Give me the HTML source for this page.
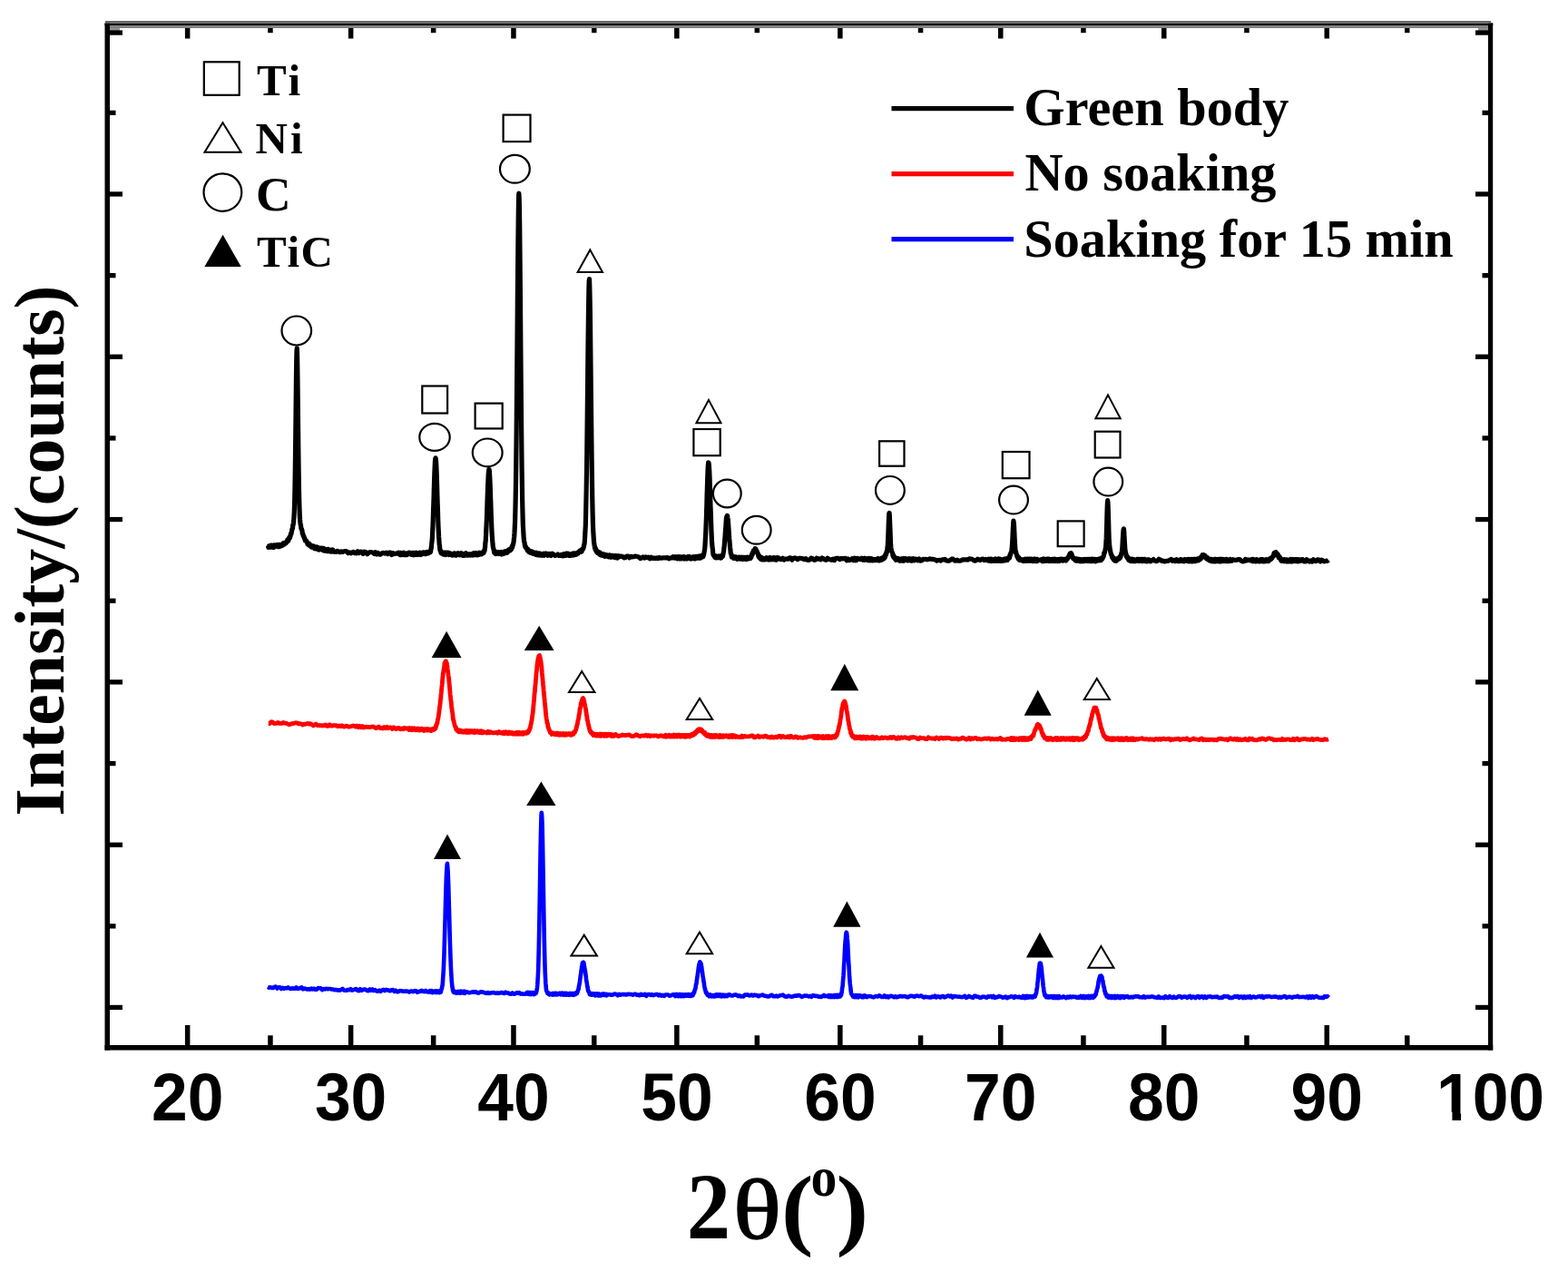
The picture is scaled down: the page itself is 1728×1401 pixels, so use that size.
<!DOCTYPE html><html><head><meta charset="utf-8"><title>XRD patterns</title>
<style>html,body{margin:0;padding:0;background:#fff;overflow:hidden;width:1728px;height:1401px;}svg{display:block;}.sans{font-family:"Liberation Sans",Arial,sans-serif;font-weight:bold;}.serif{font-family:"Liberation Serif","Times New Roman",serif;font-weight:bold;}</style></head><body>
<svg width="1728" height="1401" viewBox="0 0 1728 1401">
<rect width="1728" height="1401" fill="#fff"/>
<path d="M295.50,601.48 295.80,603.33 296.10,603.11 296.40,601.78 296.70,602.39 297.00,602.27 297.30,602.78 297.60,603.13 297.90,601.32 298.20,601.14 298.50,603.22 298.80,602.16 299.10,603.01 299.40,601.02 299.70,602.16 300.00,602.86 300.30,601.56 300.60,603.41 300.90,603.27 301.20,600.99 301.50,600.96 301.80,602.28 302.10,603.29 302.40,601.81 302.70,601.36 303.00,601.86 303.30,600.81 303.60,601.28 303.90,601.81 304.20,601.93 304.50,601.21 304.80,601.17 305.10,601.10 305.40,601.68 305.70,601.19 306.00,600.45 306.30,602.52 306.60,601.74 306.90,601.91 307.20,600.67 307.50,602.70 307.80,602.30 308.10,600.31 308.40,600.79 308.70,601.72 309.00,601.62 309.30,602.12 309.60,600.70 309.90,601.67 310.20,601.15 310.50,600.10 310.80,600.73 311.10,601.38 311.40,601.17 311.70,600.15 312.00,600.23 312.30,598.65 312.60,599.04 312.90,600.32 313.20,599.15 313.50,598.35 313.80,599.13 314.10,599.33 314.40,599.04 314.70,598.03 315.00,597.95 315.30,597.87 315.60,598.29 315.90,597.32 316.20,596.67 316.50,596.59 316.80,595.03 317.10,594.68 317.40,595.98 317.70,596.26 318.00,594.77 318.30,593.74 318.60,592.61 318.90,592.88 319.20,593.50 319.50,592.27 319.80,590.93 320.10,590.98 320.40,588.50 320.70,588.33 321.00,588.49 321.30,586.48 321.60,585.05 321.90,583.35 322.20,582.78 322.50,582.45 322.80,578.43 323.10,578.66 323.40,576.57 323.70,573.85 324.00,569.38 324.30,563.54 324.60,553.91 324.90,541.28 325.20,523.54 325.50,500.37 325.80,476.29 326.10,447.44 326.40,419.75 326.70,399.00 327.00,386.09 327.30,383.85 327.60,393.23 327.90,412.76 328.20,438.44 328.50,466.46 328.80,493.21 329.10,515.81 329.40,535.38 329.70,549.49 330.00,560.64 330.30,568.25 330.60,572.76 330.90,576.02 331.20,578.48 331.50,578.94 331.80,582.11 332.10,583.14 332.40,582.97 332.70,584.05 333.00,585.22 333.30,588.25 333.60,587.96 333.90,588.56 334.20,590.79 334.50,590.90 334.80,590.96 335.10,591.92 335.40,593.56 335.70,593.26 336.00,594.12 336.30,595.82 336.60,595.67 336.90,595.81 337.20,596.65 337.50,595.91 337.80,597.25 338.10,597.72 338.40,597.47 338.70,597.60 339.00,599.97 339.30,599.25 339.60,598.75 339.90,600.05 340.20,600.85 340.50,599.02 340.80,599.23 341.10,599.78 341.40,601.47 341.70,600.22 342.00,601.82 342.30,601.92 342.60,601.74 342.90,601.06 343.20,603.18 343.50,602.86 343.80,602.27 344.10,601.64 344.40,602.88 344.70,602.34 345.00,602.93 345.30,602.39 345.60,603.32 345.90,601.94 346.20,602.68 346.50,604.53 346.80,604.39 347.10,603.02 347.40,604.55 347.70,603.22 348.00,604.95 348.30,604.53 348.60,603.77 348.90,603.43 349.20,602.88 349.50,605.22 349.80,603.11 350.10,605.22 350.40,605.67 350.70,604.72 351.00,603.76 351.30,605.64 351.60,605.98 351.90,605.35 352.20,604.90 352.50,604.63 352.80,604.61 353.10,604.31 353.40,605.58 353.70,605.02 354.00,604.45 354.30,604.28 354.60,605.79 354.90,604.89 355.20,605.47 355.50,605.07 355.80,606.55 356.10,606.67 356.40,604.43 356.70,604.96 357.00,605.33 357.30,607.10 357.60,606.61 357.90,605.51 358.20,605.23 358.50,606.47 358.80,606.95 359.10,607.24 359.40,605.75 359.70,607.20 360.00,606.73 360.30,606.25 360.60,607.59 360.90,605.68 361.20,607.00 361.50,605.38 361.80,605.64 362.10,607.61 362.40,605.83 362.70,607.29 363.00,606.92 363.30,607.59 363.60,606.40 363.90,606.36 364.20,606.27 364.50,607.81 364.80,607.16 365.10,608.11 365.40,607.97 365.70,606.06 366.00,607.17 366.30,606.05 366.60,605.91 366.90,606.04 367.20,608.14 368.70,608.11 370.20,608.38 371.70,607.28 373.20,608.16 374.70,608.75 376.20,607.86 377.70,608.51 379.20,607.76 380.70,607.51 382.20,608.05 383.70,609.74 385.20,608.95 386.70,609.95 388.20,608.79 389.70,608.38 391.20,609.76 392.70,609.93 394.20,607.86 395.70,609.63 397.20,608.17 398.70,608.29 400.20,610.34 401.70,608.20 403.20,608.77 404.70,610.76 406.20,609.34 407.70,608.60 409.20,608.78 410.70,609.02 412.20,610.38 413.70,608.76 415.20,610.91 416.70,609.57 418.20,611.15 419.70,611.04 421.20,609.49 422.70,609.43 424.20,610.06 425.70,609.12 427.20,610.60 428.70,609.05 430.20,609.02 431.70,611.56 433.20,609.79 434.70,610.59 436.20,610.23 437.70,609.89 439.20,609.25 440.70,611.48 441.00,611.62 441.30,611.63 441.60,609.40 441.90,609.67 442.20,610.72 442.50,611.66 442.80,610.53 443.10,610.91 443.40,610.84 443.70,609.80 444.00,610.54 444.30,609.93 444.60,609.77 444.90,609.35 445.20,609.87 445.50,611.69 445.80,610.30 446.10,610.84 446.40,610.82 446.70,611.59 447.00,610.16 447.30,609.95 447.60,610.00 447.90,609.98 448.20,611.36 448.50,611.48 448.80,609.94 449.10,610.03 449.40,610.57 449.70,610.66 450.00,610.71 450.30,609.80 450.60,609.21 450.90,609.80 451.20,609.35 451.50,610.60 451.80,609.35 452.10,609.36 452.40,610.82 452.70,609.92 453.00,611.22 453.30,610.45 453.60,611.41 453.90,609.56 454.20,610.47 454.50,611.23 454.80,609.36 455.10,611.63 455.40,609.61 455.70,611.18 456.00,611.72 456.30,611.29 456.60,609.98 456.90,609.43 457.20,610.49 457.50,611.54 457.80,609.91 458.10,611.46 458.40,609.50 458.70,611.50 459.00,609.21 459.30,609.95 459.60,611.47 459.90,611.20 460.20,611.47 460.50,611.29 460.80,611.04 461.10,610.88 461.40,609.55 461.70,610.20 462.00,609.48 462.30,610.92 462.60,610.79 462.90,609.70 463.20,609.20 463.50,611.52 463.80,611.11 464.10,610.42 464.40,610.39 464.70,611.18 465.00,610.13 465.30,609.96 465.60,609.80 465.90,609.57 466.20,608.94 466.50,610.54 466.80,609.92 467.10,610.29 467.40,608.95 467.70,609.68 468.00,609.09 468.30,609.02 468.60,609.34 468.90,610.78 469.20,609.62 469.50,609.59 469.80,610.09 470.10,609.06 470.40,608.42 470.70,609.73 471.00,609.60 471.30,609.92 471.60,609.30 471.90,609.87 472.20,609.90 472.50,608.52 472.80,609.07 473.10,608.88 473.40,608.03 473.70,608.25 474.00,608.28 474.30,608.67 474.60,607.96 474.90,605.25 475.20,604.76 475.50,601.19 475.80,598.53 476.10,596.10 476.40,592.48 476.70,584.92 477.00,579.64 477.30,571.96 477.60,561.49 477.90,552.77 478.20,543.12 478.50,531.96 478.80,523.59 479.10,515.75 479.40,509.25 479.70,506.07 480.00,504.86 480.30,506.35 480.60,509.21 480.90,514.31 481.20,522.46 481.50,531.60 481.80,542.44 482.10,553.00 482.40,560.89 482.70,571.51 483.00,579.60 483.30,585.51 483.60,591.64 483.90,595.31 484.20,600.37 484.50,601.30 484.80,605.76 485.10,606.78 485.40,607.36 485.70,607.17 486.00,609.36 486.30,609.86 486.60,607.99 486.90,609.85 487.20,610.18 487.50,609.83 487.80,610.04 488.10,609.47 488.40,610.80 488.70,611.00 489.00,609.54 489.30,610.70 489.60,609.80 489.90,609.16 490.20,609.64 490.50,609.17 490.80,611.25 491.10,611.43 491.40,609.29 491.70,610.58 492.00,610.12 492.30,609.40 492.60,609.90 492.90,609.81 493.20,611.14 493.50,609.23 493.80,609.74 494.10,610.42 494.40,609.36 494.70,610.96 495.00,610.93 495.30,611.54 495.60,609.93 495.90,610.16 496.20,610.84 496.50,610.16 496.80,610.99 497.10,610.14 497.40,611.28 497.70,611.58 498.00,611.64 498.30,612.08 498.60,610.98 498.90,610.85 499.20,611.82 499.50,611.60 499.80,611.10 500.10,610.62 500.40,610.37 500.70,609.93 501.00,611.75 501.30,609.97 501.60,611.61 501.90,611.09 502.20,612.19 502.50,611.67 502.80,612.23 503.10,610.06 503.40,611.01 503.70,611.20 504.00,610.53 504.30,611.03 504.60,610.65 504.90,611.10 505.20,609.74 505.50,610.89 505.80,610.91 506.10,610.54 506.40,610.79 506.70,611.79 507.00,611.53 507.30,611.04 507.60,611.45 507.90,610.75 508.20,610.30 508.50,609.78 508.80,610.49 509.10,611.33 509.40,612.07 509.70,611.93 510.00,611.10 510.30,612.34 510.60,610.98 510.90,611.95 511.20,610.84 511.50,611.71 511.80,612.35 512.10,610.57 512.40,610.22 512.70,611.39 513.00,611.16 513.30,610.71 513.60,609.78 513.90,610.78 514.20,610.88 514.50,610.82 514.80,612.00 515.10,611.28 515.40,611.67 515.70,612.09 516.00,611.70 516.30,611.03 516.60,611.68 516.90,611.41 517.20,611.42 517.50,611.37 517.80,610.79 518.10,611.36 518.40,611.36 518.70,612.15 519.00,611.74 519.30,611.90 519.60,611.68 519.90,611.80 520.20,611.25 520.50,610.57 520.80,610.34 521.10,611.49 521.40,611.91 521.70,611.04 522.00,610.01 522.30,611.77 522.60,610.85 522.90,610.79 523.20,609.68 523.50,610.87 523.80,611.46 524.10,610.61 524.40,610.42 524.70,611.18 525.00,609.50 525.30,610.75 525.60,611.87 525.90,611.18 526.20,610.40 526.50,611.12 526.80,610.87 527.10,609.81 527.40,609.78 527.70,611.51 528.00,609.86 528.30,609.32 528.60,611.24 528.90,610.40 529.20,609.95 529.50,610.27 529.80,610.80 530.10,609.26 530.40,610.45 530.70,610.54 531.00,610.72 531.30,609.22 531.60,610.00 531.90,608.89 532.20,609.58 532.50,608.36 532.80,609.67 533.10,609.46 533.40,607.49 533.70,606.39 534.00,607.16 534.30,604.88 534.60,603.06 534.90,598.06 535.20,596.59 535.50,591.19 535.80,584.69 536.10,578.28 536.40,571.49 536.70,563.18 537.00,552.82 537.30,545.12 537.60,535.54 537.90,530.21 538.20,522.85 538.50,519.96 538.80,517.54 539.10,517.61 539.40,519.38 539.70,524.83 540.00,530.32 540.30,538.11 540.60,548.19 540.90,556.13 541.20,565.83 541.50,572.64 541.80,581.22 542.10,587.59 542.40,591.86 542.70,595.68 543.00,599.85 543.30,602.71 543.60,603.65 543.90,605.30 544.20,605.97 544.50,608.09 544.80,609.35 545.10,607.95 545.40,607.71 545.70,609.63 546.00,610.04 546.30,610.53 546.60,609.69 546.90,609.05 547.20,610.39 547.50,608.56 547.80,610.10 548.10,608.58 548.40,609.40 548.70,609.67 549.00,609.38 549.30,608.85 549.60,609.03 549.90,610.56 550.20,609.64 550.50,609.94 550.80,608.98 551.10,610.28 551.40,609.27 551.70,609.94 552.00,610.75 552.30,610.95 552.60,608.46 552.90,610.39 553.20,610.51 553.50,609.08 553.80,609.21 554.10,609.68 554.40,610.52 554.70,609.12 555.00,610.31 555.30,609.94 555.60,608.30 555.90,610.22 556.20,607.81 556.50,608.07 556.80,609.34 557.10,607.68 557.40,608.42 557.70,607.67 558.00,608.43 558.30,609.30 558.60,609.35 558.90,606.95 559.20,606.88 559.50,608.76 559.80,606.52 560.10,606.95 560.40,606.36 560.70,606.09 561.00,605.71 561.30,607.07 561.60,607.10 561.90,606.68 562.20,606.81 562.50,606.02 562.80,604.97 563.10,605.24 563.40,605.72 563.70,604.43 564.00,602.92 564.30,601.92 564.60,603.60 564.90,602.02 565.20,600.59 565.50,600.27 565.80,598.91 566.10,597.18 566.40,593.77 566.70,591.48 567.00,587.39 567.30,580.97 567.60,574.70 567.90,562.69 568.20,549.07 568.50,530.97 568.80,508.39 569.10,481.09 569.40,449.58 569.70,413.04 570.00,377.27 570.30,336.82 570.60,301.99 570.90,268.88 571.20,242.14 571.50,221.61 571.80,213.00 572.10,216.64 572.40,227.83 572.70,248.99 573.00,279.64 573.30,311.70 573.60,350.56 573.90,388.65 574.20,424.86 574.50,459.69 574.80,490.71 575.10,516.88 575.40,535.80 575.70,553.96 576.00,565.87 576.30,577.55 576.60,582.95 576.90,588.09 577.20,592.81 577.50,596.45 577.80,597.37 578.10,598.38 578.40,601.26 578.70,602.22 579.00,603.11 579.30,602.33 579.60,603.22 579.90,603.27 580.20,604.55 580.50,604.39 580.80,604.81 581.10,606.33 581.40,607.12 581.70,606.46 582.00,605.50 582.30,607.20 582.60,606.92 582.90,608.56 583.20,608.08 583.50,608.58 583.80,608.42 584.10,608.17 584.40,609.28 584.70,609.27 585.00,608.01 585.30,607.80 585.60,608.49 585.90,609.00 586.20,608.02 586.50,608.77 586.80,609.48 587.10,608.19 587.40,610.29 587.70,609.96 588.00,609.16 588.30,609.21 588.60,609.42 588.90,609.42 589.20,610.59 589.50,610.02 589.80,610.15 590.10,609.22 590.40,611.27 590.70,609.80 591.00,609.85 591.30,609.23 591.60,611.65 591.90,610.39 592.20,611.56 592.50,611.65 592.80,611.80 593.10,611.43 593.40,611.76 593.70,611.78 594.00,611.50 594.30,609.80 594.60,610.85 594.90,611.01 595.20,612.13 595.50,611.61 595.80,611.43 596.10,611.57 596.40,610.59 596.70,612.13 597.00,611.38 597.30,610.77 597.60,610.96 597.90,612.32 598.20,611.17 598.50,610.25 598.80,610.21 599.10,611.63 599.40,611.33 599.70,612.24 600.00,610.38 600.30,610.98 600.60,611.82 600.90,610.08 601.20,610.22 601.50,611.39 601.80,610.68 602.10,610.28 602.40,610.69 602.70,611.67 603.00,611.41 603.30,610.25 603.60,610.25 603.90,612.28 604.20,611.75 605.70,610.58 607.20,612.41 608.70,610.25 610.20,611.18 611.70,612.44 613.20,612.09 614.70,610.99 616.20,612.56 617.70,611.79 618.00,612.48 618.30,612.55 618.60,611.33 618.90,611.98 619.20,611.63 619.50,612.67 619.80,612.28 620.10,612.09 620.40,612.31 620.70,612.78 621.00,610.85 621.30,610.70 621.60,612.11 621.90,612.16 622.20,611.49 622.50,611.41 622.80,611.18 623.10,612.41 623.40,612.18 623.70,611.62 624.00,610.19 624.30,612.29 624.60,611.25 624.90,610.54 625.20,610.81 625.50,611.81 625.80,610.01 626.10,610.29 626.40,610.75 626.70,612.25 627.00,611.87 627.30,612.43 627.60,611.29 627.90,611.35 628.20,611.27 628.50,611.18 628.80,611.19 629.10,611.88 629.40,612.21 629.70,610.76 630.00,611.30 630.30,610.43 630.60,610.38 630.90,610.87 631.20,611.04 631.50,610.91 631.80,611.97 632.10,609.81 632.40,610.99 632.70,611.87 633.00,611.15 633.30,610.65 633.60,610.07 633.90,610.10 634.20,611.42 634.50,611.24 634.80,610.58 635.10,611.09 635.40,611.08 635.70,610.78 636.00,609.48 636.30,609.59 636.60,610.34 636.90,609.13 637.20,609.98 637.50,609.15 637.80,608.63 638.10,608.79 638.40,607.75 638.70,608.19 639.00,608.16 639.30,606.93 639.60,607.11 639.90,607.10 640.20,608.41 640.50,607.45 640.80,606.38 641.10,607.92 641.40,605.66 641.70,605.94 642.00,606.10 642.30,605.49 642.60,604.25 642.90,604.46 643.20,602.84 643.50,602.31 643.80,600.21 644.10,599.37 644.40,595.81 644.70,590.16 645.00,584.71 645.30,579.37 645.60,567.48 645.90,554.06 646.20,538.46 646.50,519.36 646.80,497.46 647.10,469.88 647.40,442.37 647.70,413.31 648.00,382.59 648.30,357.52 648.60,336.27 648.90,318.72 649.20,309.44 649.50,307.62 649.80,315.87 650.10,330.09 650.40,348.34 650.70,374.77 651.00,402.66 651.30,432.69 651.60,460.12 651.90,487.53 652.20,511.79 652.50,533.20 652.80,551.40 653.10,565.56 653.40,576.30 653.70,584.33 654.00,588.98 654.30,594.28 654.60,598.27 654.90,599.66 655.20,601.93 655.50,604.23 655.80,603.15 656.10,605.84 656.40,604.53 656.70,605.80 657.00,607.63 657.30,606.22 657.60,607.44 657.90,607.52 658.20,609.07 658.50,609.64 658.80,608.09 659.10,608.88 659.40,610.17 659.70,609.48 660.00,608.84 660.30,610.45 660.60,609.54 660.90,610.10 661.20,609.02 661.50,611.73 661.80,611.01 662.10,611.84 662.40,612.09 662.70,610.39 663.00,611.21 663.30,611.06 663.60,612.00 663.90,612.32 664.20,610.82 664.50,611.03 664.80,612.24 665.10,611.56 665.40,610.91 665.70,611.15 666.00,612.18 666.30,612.35 666.60,613.35 666.90,612.31 667.20,612.57 667.50,611.44 667.80,612.19 668.10,611.89 668.40,613.03 668.70,611.97 669.00,611.89 669.30,612.33 669.60,612.65 669.90,612.35 670.20,613.10 670.50,612.04 670.80,613.90 671.10,613.46 671.40,613.09 671.70,611.89 672.00,612.62 672.30,613.61 672.60,613.53 672.90,614.00 673.20,614.24 673.50,612.78 673.80,613.28 674.10,612.89 674.40,612.40 674.70,612.46 675.00,612.79 675.30,612.39 675.60,613.59 675.90,614.05 676.20,613.72 676.50,614.06 676.80,612.90 677.10,612.86 677.40,613.84 677.70,614.69 678.00,613.52 678.30,612.46 678.60,612.53 678.90,613.30 679.20,614.13 679.50,612.78 679.80,613.16 680.10,614.37 680.40,615.18 680.70,613.51 681.00,614.20 681.30,614.00 681.60,612.72 683.10,613.57 684.60,613.13 686.10,613.46 687.60,614.85 689.10,614.66 690.60,613.03 692.10,613.15 693.60,614.87 695.10,613.28 696.60,613.86 698.10,613.77 699.60,613.22 701.10,613.20 702.60,613.50 704.10,614.20 705.60,615.61 707.10,614.86 708.60,613.85 710.10,615.01 711.60,613.97 713.10,614.61 714.60,614.13 716.10,615.77 717.60,614.24 719.10,615.43 720.60,615.02 722.10,615.56 723.60,614.96 725.10,615.66 726.60,614.47 728.10,615.19 729.60,615.05 731.10,614.82 732.60,614.93 734.10,614.87 735.60,614.51 737.10,615.83 738.60,615.15 740.10,614.94 741.60,613.66 741.90,614.85 742.20,613.98 742.50,614.09 742.80,614.66 743.10,614.95 743.40,614.18 743.70,614.24 744.00,614.91 744.30,614.76 744.60,614.58 744.90,613.81 745.20,614.51 745.50,615.24 745.80,614.95 746.10,614.96 746.40,615.74 746.70,615.42 747.00,615.32 747.30,613.62 747.60,614.35 747.90,615.32 748.20,613.95 748.50,615.92 748.80,613.92 749.10,615.83 749.40,614.11 749.70,615.74 750.00,615.75 750.30,614.42 750.60,615.86 750.90,613.96 751.20,615.75 751.50,614.54 751.80,614.69 752.10,613.85 752.40,615.11 752.70,614.25 753.00,615.28 753.30,615.62 753.60,615.11 753.90,613.56 754.20,616.01 754.50,615.93 754.80,615.21 755.10,614.52 755.40,614.99 755.70,615.83 756.00,614.72 756.30,615.55 756.60,615.08 756.90,614.62 757.20,615.94 757.50,614.58 757.80,615.09 758.10,613.65 758.40,614.73 758.70,613.60 759.00,615.33 759.30,613.49 759.60,613.59 759.90,613.77 760.20,613.84 760.50,614.79 760.80,614.39 761.10,614.16 761.40,616.01 761.70,615.80 762.00,615.14 762.30,615.51 762.60,615.55 762.90,614.04 763.20,615.50 763.50,614.01 763.80,614.84 764.10,614.29 764.40,613.76 764.70,615.36 765.00,615.71 765.30,614.13 765.60,615.58 765.90,614.18 766.20,614.97 766.50,615.83 766.80,615.23 767.10,613.35 767.40,614.31 767.70,614.13 768.00,613.89 768.30,615.22 768.60,614.22 768.90,614.86 769.20,614.66 769.50,614.33 769.80,613.08 770.10,614.65 770.40,615.17 770.70,613.26 771.00,614.43 771.30,613.98 771.60,613.54 771.90,614.44 772.20,615.06 772.50,612.51 772.80,614.71 773.10,613.29 773.40,614.36 773.70,612.52 774.00,613.78 774.30,611.99 774.60,612.34 774.90,613.63 775.20,612.30 775.50,611.91 775.80,610.04 776.10,608.62 776.40,606.69 776.70,604.74 777.00,601.08 777.30,595.18 777.60,590.20 777.90,583.70 778.20,575.89 778.50,567.94 778.80,558.13 779.10,546.41 779.40,537.20 779.70,527.41 780.00,519.35 780.30,513.43 780.60,509.90 780.90,510.11 781.20,511.15 781.50,515.31 781.80,520.03 782.10,527.52 782.40,538.74 782.70,548.15 783.00,558.39 783.30,565.57 783.60,575.41 783.90,583.91 784.20,590.94 784.50,597.02 784.80,600.56 785.10,603.70 785.40,605.38 785.70,609.44 786.00,611.35 786.30,612.18 786.60,612.26 786.90,611.93 787.20,612.02 787.50,613.66 787.80,614.27 788.10,614.47 788.40,612.54 788.70,613.70 789.00,613.59 789.30,613.44 789.60,614.45 789.90,614.87 790.20,614.37 790.50,614.35 790.80,614.36 791.10,614.29 791.40,614.02 791.70,613.29 792.00,614.69 792.30,612.99 792.60,614.36 792.90,613.70 793.20,614.15 793.50,614.35 793.80,613.91 794.10,615.19 794.40,613.23 794.70,612.58 795.00,614.94 795.30,613.13 795.60,612.83 795.90,612.88 796.20,612.91 796.50,613.30 796.80,611.70 797.10,609.50 797.40,608.49 797.70,606.26 798.00,603.89 798.30,600.64 798.60,596.46 798.90,593.09 799.20,588.78 799.50,583.84 799.80,581.05 800.10,575.79 800.40,571.74 800.70,570.11 801.00,569.13 801.30,568.39 801.60,568.57 801.90,570.58 802.20,572.28 802.50,575.31 802.80,579.70 803.10,584.35 803.40,588.64 803.70,593.45 804.00,596.61 804.30,600.12 804.60,603.48 804.90,605.87 805.20,609.48 805.50,610.39 805.80,610.72 806.10,612.22 806.40,614.03 806.70,613.73 807.00,614.00 807.30,613.82 807.60,613.48 807.90,614.72 808.20,613.38 808.50,615.30 808.80,613.47 809.10,615.31 809.40,614.41 809.70,615.23 810.00,615.03 810.30,613.87 810.60,614.96 810.90,613.79 811.20,614.25 811.50,614.64 811.80,614.42 812.10,615.42 812.40,616.29 812.70,614.68 813.00,615.95 813.30,614.37 813.60,615.65 813.90,614.73 814.20,615.24 814.50,614.09 814.80,616.03 815.10,614.43 815.40,615.11 815.70,614.67 816.00,616.04 816.30,615.49 816.60,615.56 816.90,615.93 817.20,614.64 817.50,614.14 817.80,616.16 818.10,614.83 818.40,616.14 818.70,616.52 819.00,615.68 819.30,614.32 819.60,616.28 819.90,615.72 820.20,614.72 820.50,614.63 820.80,615.41 821.10,614.42 821.40,616.46 821.70,615.95 822.00,616.25 822.30,615.12 822.60,616.53 822.90,614.48 823.20,615.99 823.50,614.79 823.80,614.13 824.10,614.42 824.40,614.61 824.70,616.04 825.00,614.99 825.30,615.19 825.60,615.45 825.90,614.44 826.20,615.25 826.50,615.15 826.80,615.57 827.10,614.20 827.40,614.78 827.70,614.68 828.00,613.71 828.30,612.29 828.60,611.33 828.90,610.25 829.20,611.50 829.50,608.99 829.80,609.41 830.10,608.44 830.40,606.72 830.70,606.56 831.00,607.61 831.30,606.44 831.60,607.12 831.90,606.88 832.20,604.70 832.50,606.29 832.80,604.85 833.10,606.16 833.40,606.66 833.70,608.53 834.00,608.20 834.30,607.81 834.60,609.34 834.90,610.08 835.20,609.93 835.50,611.02 835.80,613.00 836.10,613.85 836.40,613.84 836.70,612.46 837.00,615.05 837.30,614.23 837.60,615.49 837.90,614.02 838.20,614.14 838.50,616.27 838.80,614.78 839.10,614.25 839.40,615.51 839.70,616.84 840.00,616.48 840.30,615.37 840.60,616.94 840.90,616.45 841.20,616.58 841.50,616.08 841.80,615.43 842.10,616.77 842.40,615.64 842.70,616.85 843.00,615.86 843.30,616.79 843.60,615.67 843.90,615.55 844.20,615.97 844.50,615.27 844.80,614.83 845.10,615.98 845.40,616.66 845.70,615.18 846.00,616.71 846.30,616.51 846.60,616.48 846.90,615.55 847.20,617.07 847.50,616.53 847.80,615.97 848.10,614.77 848.40,615.97 848.70,614.52 849.00,616.83 849.30,615.36 849.60,615.45 849.90,615.93 850.20,616.16 850.50,616.02 850.80,615.76 851.10,616.16 851.40,616.71 851.70,615.67 852.00,615.82 852.30,616.62 852.60,614.53 852.90,614.94 853.20,615.37 853.50,615.09 853.80,616.86 854.10,614.92 854.40,614.82 854.70,615.36 855.00,615.86 855.30,616.68 855.60,617.14 855.90,616.77 856.20,616.14 856.50,614.65 858.00,614.73 859.50,616.22 861.00,616.73 862.50,615.30 864.00,617.14 865.50,616.07 867.00,616.14 868.50,616.27 870.00,614.87 871.50,615.13 873.00,617.13 874.50,615.41 876.00,614.94 877.50,615.47 879.00,616.64 880.50,615.44 882.00,615.32 883.50,615.50 885.00,616.05 886.50,616.73 888.00,615.60 889.50,617.10 891.00,617.38 892.50,616.99 894.00,615.06 895.50,615.70 897.00,617.30 898.50,617.14 900.00,615.26 901.50,616.08 903.00,615.89 904.50,616.89 906.00,615.04 907.50,615.80 909.00,616.94 910.50,617.30 912.00,615.12 913.50,616.55 915.00,616.76 916.50,617.31 918.00,616.16 919.50,617.60 921.00,615.59 922.50,615.39 924.00,615.44 925.50,616.64 927.00,615.44 928.50,615.83 930.00,615.66 931.50,615.31 933.00,617.68 934.50,616.06 936.00,617.70 937.50,617.09 939.00,615.79 940.50,617.66 942.00,615.27 943.50,617.81 945.00,615.35 946.50,615.94 948.00,616.72 949.50,615.32 951.00,617.30 952.50,615.54 952.80,617.45 953.10,615.42 953.40,616.70 953.70,615.88 954.00,616.09 954.30,616.61 954.60,616.30 954.90,616.36 955.20,617.04 955.50,615.85 955.80,615.82 956.10,617.13 956.40,616.12 956.70,617.78 957.00,616.47 957.30,616.59 957.60,615.42 957.90,615.42 958.20,615.64 958.50,617.00 958.80,617.10 959.10,617.85 959.40,616.50 959.70,617.22 960.00,616.27 960.30,615.58 960.60,616.48 960.90,617.21 961.20,617.48 961.50,617.87 961.80,617.56 962.10,616.86 962.40,616.83 962.70,616.70 963.00,616.64 963.30,617.17 963.60,616.90 963.90,617.64 964.20,616.58 964.50,616.64 964.80,617.58 965.10,617.18 965.40,616.78 965.70,616.89 966.00,617.52 966.30,617.01 966.60,616.10 966.90,616.24 967.20,617.01 967.50,615.55 967.80,616.63 968.10,617.76 968.40,616.04 968.70,616.59 969.00,617.25 969.30,617.84 969.60,617.24 969.90,617.04 970.20,616.40 970.50,616.52 970.80,617.02 971.10,616.25 971.40,617.31 971.70,615.23 972.00,617.08 972.30,616.95 972.60,615.69 972.90,614.77 973.20,615.42 973.50,615.83 973.80,616.06 974.10,615.95 974.40,613.84 974.70,613.07 975.00,612.67 975.30,614.37 975.60,612.86 975.90,610.85 976.20,611.59 976.50,611.54 976.80,609.82 977.10,607.98 977.40,608.85 977.70,606.77 978.00,603.28 978.30,601.32 978.60,595.32 978.90,588.21 979.20,579.17 979.50,570.99 979.80,566.06 980.10,565.53 980.40,569.27 980.70,577.65 981.00,584.16 981.30,592.32 981.60,600.24 981.90,603.43 982.20,605.98 982.50,607.61 982.80,607.73 983.10,609.04 983.40,609.38 983.70,610.00 984.00,612.91 984.30,612.96 984.60,613.95 984.90,612.25 985.20,614.61 985.50,614.04 985.80,614.95 986.10,615.76 986.40,614.39 986.70,615.53 987.00,616.22 987.30,617.23 987.60,616.43 987.90,616.04 988.20,616.88 988.50,616.90 988.80,616.20 989.10,616.91 989.40,616.24 989.70,615.57 990.00,616.37 990.30,615.80 990.60,616.87 990.90,616.90 991.20,617.87 991.50,617.56 991.80,617.57 992.10,618.19 992.40,616.31 992.70,616.60 993.00,616.23 993.30,615.90 993.60,616.98 993.90,616.97 994.20,615.98 994.50,618.04 994.80,618.19 995.10,615.83 995.40,615.66 995.70,615.81 996.00,617.56 996.30,617.87 996.60,615.83 996.90,615.68 997.20,617.06 997.50,616.53 997.80,615.72 998.10,615.69 998.40,616.22 998.70,616.20 999.00,616.45 999.30,617.11 999.60,616.34 999.90,616.29 1000.20,616.23 1000.50,617.99 1000.80,616.31 1001.10,617.13 1001.40,616.87 1001.70,616.55 1002.00,616.75 1002.30,615.73 1002.60,616.17 1002.90,617.36 1003.20,617.67 1003.50,616.26 1003.80,616.15 1004.10,618.05 1004.40,615.95 1004.70,617.76 1005.00,617.98 1005.30,616.08 1005.60,617.87 1005.90,616.09 1006.20,615.81 1006.50,616.45 1006.80,616.60 1007.10,617.24 1007.40,616.85 1007.70,617.77 1008.00,617.43 1008.30,616.02 1009.80,616.24 1011.30,617.65 1012.80,616.02 1014.30,618.20 1015.80,617.84 1017.30,616.30 1018.80,616.48 1020.30,616.39 1021.80,616.84 1023.30,616.39 1024.80,615.83 1026.30,616.41 1027.80,616.26 1029.30,616.67 1030.80,616.95 1032.30,618.04 1033.80,617.49 1035.30,617.38 1036.80,618.03 1038.30,616.79 1039.80,616.90 1041.30,616.43 1042.80,617.95 1044.30,618.08 1045.80,618.17 1047.30,617.38 1048.80,616.11 1050.30,616.00 1051.80,617.89 1053.30,618.12 1054.80,617.21 1056.30,618.22 1057.80,618.25 1059.30,617.80 1060.80,616.80 1062.30,617.03 1063.80,616.76 1065.30,616.88 1066.80,617.08 1068.30,615.90 1069.80,616.20 1071.30,616.30 1072.80,617.35 1074.30,618.14 1075.80,617.73 1077.30,616.27 1078.80,617.08 1080.30,617.52 1081.80,616.25 1083.30,616.11 1084.80,617.49 1086.30,616.52 1087.80,617.59 1089.30,616.36 1089.60,618.14 1089.90,616.72 1090.20,617.03 1090.50,617.35 1090.80,618.22 1091.10,618.30 1091.40,618.12 1091.70,617.70 1092.00,616.10 1092.30,616.41 1092.60,617.31 1092.90,618.48 1093.20,617.81 1093.50,616.42 1093.80,616.85 1094.10,618.43 1094.40,617.25 1094.70,618.19 1095.00,618.16 1095.30,617.96 1095.60,617.56 1095.90,617.66 1096.20,616.82 1096.50,616.24 1096.80,618.40 1097.10,616.02 1097.40,616.64 1097.70,617.53 1098.00,618.44 1098.30,616.48 1098.60,616.58 1098.90,618.14 1099.20,616.79 1099.50,616.99 1099.80,616.88 1100.10,616.07 1100.40,618.39 1100.70,617.76 1101.00,615.96 1101.30,616.20 1101.60,616.30 1101.90,616.90 1102.20,618.26 1102.50,616.31 1102.80,616.54 1103.10,616.76 1103.40,617.28 1103.70,618.29 1104.00,617.35 1104.30,618.30 1104.60,617.36 1104.90,617.07 1105.20,618.22 1105.50,617.46 1105.80,617.18 1106.10,617.28 1106.40,616.86 1106.70,617.06 1107.00,616.11 1107.30,616.44 1107.60,617.87 1107.90,616.21 1108.20,616.37 1108.50,616.20 1108.80,616.66 1109.10,615.77 1109.40,616.49 1109.70,617.02 1110.00,617.05 1110.30,617.36 1110.60,615.12 1110.90,616.31 1111.20,614.85 1111.50,614.89 1111.80,615.10 1112.10,615.34 1112.40,614.42 1112.70,614.70 1113.00,611.60 1113.30,611.76 1113.60,611.53 1113.90,609.69 1114.20,608.96 1114.50,608.83 1114.80,607.98 1115.10,604.74 1115.40,601.15 1115.70,596.73 1116.00,591.20 1116.30,583.50 1116.60,578.42 1116.90,574.10 1117.20,575.53 1117.50,579.15 1117.80,585.67 1118.10,592.70 1118.40,597.97 1118.70,602.46 1119.00,606.94 1119.30,609.29 1119.60,608.29 1119.90,609.58 1120.20,610.70 1120.50,611.34 1120.80,613.34 1121.10,612.43 1121.40,613.14 1121.70,614.13 1122.00,615.81 1122.30,614.53 1122.60,615.79 1122.90,614.60 1123.20,615.88 1123.50,617.41 1123.80,615.77 1124.10,616.30 1124.40,617.21 1124.70,617.09 1125.00,617.21 1125.30,617.37 1125.60,617.60 1125.90,616.72 1126.20,616.83 1126.50,616.97 1126.80,617.32 1127.10,617.45 1127.40,618.26 1127.70,617.02 1128.00,617.17 1128.30,618.17 1128.60,618.53 1128.90,616.64 1129.20,617.91 1129.50,616.66 1129.80,617.94 1130.10,616.12 1130.40,617.34 1130.70,617.50 1131.00,617.84 1131.30,618.40 1131.60,618.09 1131.90,617.49 1132.20,617.32 1132.50,616.06 1132.80,617.46 1133.10,617.49 1133.40,617.95 1133.70,616.46 1134.00,617.56 1134.30,616.16 1134.60,617.92 1134.90,618.17 1135.20,617.17 1135.50,617.82 1135.80,617.75 1136.10,616.82 1136.40,616.26 1136.70,618.00 1137.00,616.96 1137.30,616.45 1137.60,617.19 1137.90,618.20 1138.20,618.52 1138.50,617.51 1138.80,618.56 1139.10,616.49 1139.40,617.32 1139.70,616.06 1140.00,616.65 1140.30,618.32 1140.60,616.20 1140.90,617.75 1141.20,617.37 1141.50,618.61 1141.80,618.63 1142.10,616.37 1142.40,616.73 1142.70,618.63 1143.00,616.91 1143.30,616.52 1143.60,618.42 1143.90,617.66 1144.20,616.85 1144.50,617.49 1144.80,617.17 1145.10,617.25 1146.60,617.49 1148.10,616.50 1148.40,617.66 1148.70,618.55 1149.00,617.60 1149.30,618.11 1149.60,616.80 1149.90,616.47 1150.20,616.08 1150.50,618.62 1150.80,616.38 1151.10,617.06 1151.40,617.77 1151.70,617.98 1152.00,617.68 1152.30,617.22 1152.60,618.19 1152.90,617.22 1153.20,618.25 1153.50,616.22 1153.80,617.95 1154.10,616.33 1154.40,617.09 1154.70,617.23 1155.00,616.55 1155.30,617.25 1155.60,618.30 1155.90,616.18 1156.20,616.59 1156.50,618.62 1156.80,617.25 1157.10,617.10 1157.40,618.46 1157.70,618.10 1158.00,616.54 1158.30,617.64 1158.60,616.56 1158.90,618.11 1159.20,617.54 1159.50,618.17 1159.80,616.26 1160.10,618.51 1160.40,616.69 1160.70,618.30 1161.00,617.24 1161.30,618.41 1161.60,616.36 1161.90,616.24 1162.20,617.32 1162.50,618.52 1162.80,617.31 1163.10,617.42 1163.40,616.53 1163.70,617.51 1164.00,617.21 1164.30,618.41 1164.60,618.03 1164.90,617.35 1165.20,616.49 1165.50,616.49 1165.80,618.63 1166.10,617.70 1166.40,616.69 1166.70,618.22 1167.00,616.67 1167.30,617.29 1167.60,618.39 1167.90,616.38 1168.20,616.38 1168.50,616.24 1168.80,616.50 1169.10,617.08 1169.40,616.94 1169.70,616.82 1170.00,616.13 1170.30,617.35 1170.60,617.23 1170.90,617.98 1171.20,616.83 1171.50,617.54 1171.80,616.82 1172.10,617.93 1172.40,616.39 1172.70,617.17 1173.00,617.02 1173.30,617.00 1173.60,617.15 1173.90,617.07 1174.20,616.43 1174.50,617.66 1174.80,617.90 1175.10,616.77 1175.40,616.85 1175.70,616.93 1176.00,615.71 1176.30,616.20 1176.60,615.60 1176.90,615.33 1177.20,614.69 1177.50,614.56 1177.80,613.15 1178.10,612.55 1178.40,611.74 1178.70,612.05 1179.00,610.48 1179.30,611.32 1179.60,611.25 1179.90,610.68 1180.20,609.60 1180.50,611.46 1180.80,610.35 1181.10,611.00 1181.40,612.29 1181.70,613.18 1182.00,613.22 1182.30,614.84 1182.60,615.57 1182.90,614.57 1183.20,614.79 1183.50,615.54 1183.80,616.58 1184.10,616.70 1184.40,615.58 1184.70,616.27 1185.00,617.73 1185.30,617.98 1185.60,617.15 1185.90,617.69 1186.20,617.92 1186.50,616.38 1186.80,616.03 1187.10,617.50 1187.40,616.95 1187.70,617.84 1188.00,616.79 1188.30,617.18 1188.60,618.18 1188.90,616.34 1189.20,617.17 1189.50,616.52 1189.80,617.52 1190.10,618.05 1190.40,618.72 1190.70,618.11 1191.00,616.53 1191.30,617.30 1191.60,617.58 1191.90,617.83 1192.20,617.99 1192.50,618.70 1192.80,618.62 1193.10,616.72 1193.40,616.59 1193.70,618.70 1194.00,616.60 1194.30,618.70 1194.60,616.49 1194.90,617.70 1195.20,616.52 1195.50,616.53 1195.80,617.05 1196.10,618.25 1196.40,618.01 1196.70,617.01 1197.00,616.54 1197.30,617.12 1197.60,616.64 1197.90,616.80 1198.20,617.48 1198.50,617.46 1198.80,618.59 1199.10,616.42 1199.40,617.58 1199.70,617.66 1200.00,616.56 1200.30,617.13 1200.60,616.55 1200.90,618.52 1201.20,617.10 1201.50,616.36 1201.80,617.43 1202.10,617.57 1202.40,618.50 1202.70,618.07 1203.00,616.73 1203.30,618.56 1203.60,616.21 1203.90,618.01 1204.20,616.31 1204.50,618.33 1204.80,616.69 1205.10,618.27 1205.40,618.31 1205.70,618.21 1206.00,616.49 1206.30,617.24 1206.60,616.47 1206.90,618.07 1207.20,618.79 1207.50,617.56 1207.80,617.90 1208.10,617.94 1208.40,616.57 1208.70,617.16 1209.00,617.10 1209.30,618.15 1209.60,617.26 1209.90,617.14 1210.20,617.60 1210.50,616.70 1210.80,616.31 1211.10,616.74 1211.40,616.14 1211.70,617.78 1212.00,617.17 1212.30,617.51 1212.60,617.29 1212.90,615.83 1213.20,617.65 1213.50,617.47 1213.80,615.13 1214.10,615.94 1214.40,616.52 1214.70,615.16 1215.00,615.85 1215.30,614.88 1215.60,614.18 1215.90,614.13 1216.20,613.04 1216.50,611.71 1216.80,609.43 1217.10,609.54 1217.40,609.16 1217.70,607.66 1218.00,606.61 1218.30,604.43 1218.60,603.37 1218.90,598.07 1219.20,593.20 1219.50,584.24 1219.80,573.06 1220.10,562.09 1220.40,554.28 1220.70,551.64 1221.00,555.17 1221.30,562.11 1221.60,572.85 1221.90,585.18 1222.20,594.09 1222.50,598.56 1222.80,602.41 1223.10,605.09 1223.40,605.35 1223.70,607.71 1224.00,609.13 1224.30,610.83 1224.60,610.99 1224.90,611.62 1225.20,612.10 1225.50,614.16 1225.80,613.83 1226.10,614.33 1226.40,615.53 1226.70,615.23 1227.00,614.66 1227.30,616.37 1227.60,617.36 1227.90,616.30 1228.20,615.77 1228.50,615.94 1228.80,618.13 1229.10,616.14 1229.40,617.60 1229.70,616.15 1230.00,617.26 1230.30,618.27 1230.60,616.47 1230.90,616.58 1231.20,617.28 1231.50,617.05 1231.80,616.86 1232.10,616.24 1232.40,615.10 1232.70,616.28 1233.00,615.15 1233.30,615.70 1233.60,614.84 1233.90,613.98 1234.20,615.41 1234.50,613.17 1234.80,614.33 1235.10,612.50 1235.40,612.05 1235.70,610.66 1236.00,609.46 1236.30,609.37 1236.60,606.34 1236.90,603.04 1237.20,597.00 1237.50,592.03 1237.80,586.95 1238.10,583.61 1238.40,582.82 1238.70,584.83 1239.00,590.55 1239.30,596.19 1239.60,601.24 1239.90,605.74 1240.20,607.66 1240.50,608.76 1240.80,610.07 1241.10,612.98 1241.40,613.40 1241.70,613.79 1242.00,612.84 1242.30,614.85 1242.60,615.19 1242.90,614.98 1243.20,614.76 1243.50,614.61 1243.80,617.24 1244.10,617.52 1244.40,617.38 1244.70,616.53 1245.00,617.45 1245.30,618.06 1245.60,617.22 1245.90,616.24 1246.20,618.53 1246.50,617.45 1246.80,618.10 1247.10,617.76 1247.40,616.34 1247.70,617.39 1248.00,616.24 1248.30,616.91 1248.60,618.73 1248.90,618.03 1249.20,617.71 1249.50,616.53 1249.80,618.03 1250.10,617.82 1250.40,617.91 1250.70,618.04 1251.00,618.66 1251.30,617.42 1251.60,617.84 1251.90,617.63 1252.20,617.79 1252.50,618.02 1252.80,616.74 1253.10,616.40 1253.40,616.56 1253.70,616.37 1254.00,617.70 1254.30,617.05 1254.60,618.30 1254.90,616.68 1255.20,616.65 1255.50,618.51 1255.80,616.49 1256.10,617.18 1256.40,618.05 1256.70,617.72 1257.00,616.95 1257.30,616.61 1257.60,617.76 1257.90,616.91 1258.20,618.49 1258.50,616.95 1258.80,618.69 1259.10,616.32 1259.40,617.85 1259.70,617.00 1260.00,617.50 1260.30,617.40 1260.60,618.37 1260.90,616.75 1261.20,618.26 1261.50,616.35 1261.80,617.92 1262.10,618.41 1262.40,617.38 1262.70,618.47 1263.00,617.19 1263.30,617.19 1263.60,618.64 1263.90,618.84 1264.20,618.32 1264.50,616.86 1264.80,618.72 1265.10,617.22 1265.40,618.52 1265.70,617.11 1266.00,616.84 1266.30,616.94 1266.60,618.07 1268.10,618.82 1269.60,617.63 1271.10,616.55 1272.60,618.06 1274.10,618.62 1275.60,618.31 1277.10,616.29 1278.60,617.10 1280.10,618.30 1281.60,618.11 1283.10,618.88 1284.60,618.63 1286.10,618.37 1287.60,618.09 1289.10,617.29 1290.60,616.39 1292.10,618.30 1293.60,617.49 1295.10,618.55 1296.60,616.65 1298.10,618.53 1299.60,617.99 1299.90,618.61 1300.20,618.13 1300.50,617.44 1300.80,617.65 1301.10,616.57 1301.40,616.94 1301.70,617.81 1302.00,616.77 1302.30,617.24 1302.60,617.98 1302.90,617.86 1303.20,618.64 1303.50,617.44 1303.80,617.75 1304.10,617.41 1304.40,618.28 1304.70,617.94 1305.00,618.77 1305.30,616.68 1305.60,616.65 1305.90,617.08 1306.20,617.92 1306.50,617.98 1306.80,616.84 1307.10,617.02 1307.40,617.87 1307.70,617.00 1308.00,618.48 1308.30,616.60 1308.60,618.35 1308.90,616.72 1309.20,618.18 1309.50,618.35 1309.80,618.77 1310.10,618.67 1310.40,616.38 1310.70,618.04 1311.00,618.69 1311.30,618.32 1311.60,617.50 1311.90,618.27 1312.20,617.06 1312.50,618.41 1312.80,617.38 1313.10,618.85 1313.40,616.40 1313.70,617.84 1314.00,616.66 1314.30,618.32 1314.60,618.85 1314.90,617.60 1315.20,618.51 1315.50,616.93 1315.80,616.39 1316.10,618.40 1316.40,617.38 1316.70,616.52 1317.00,618.04 1317.30,618.62 1317.60,616.48 1317.90,617.83 1318.20,617.12 1318.50,616.29 1318.80,616.33 1319.10,616.20 1319.40,616.81 1319.70,616.73 1320.00,617.23 1320.30,617.33 1320.60,617.79 1320.90,617.65 1321.20,615.69 1321.50,616.67 1321.80,617.09 1322.10,615.21 1322.40,615.86 1322.70,616.58 1323.00,615.36 1323.30,615.23 1323.60,613.91 1323.90,615.38 1324.20,614.66 1324.50,613.06 1324.80,612.76 1325.10,611.77 1325.40,612.82 1325.70,613.70 1326.00,613.38 1326.30,611.68 1326.60,611.94 1326.90,611.79 1327.20,612.15 1327.50,612.16 1327.80,612.26 1328.10,613.50 1328.40,614.70 1328.70,614.82 1329.00,614.52 1329.30,614.03 1329.60,615.88 1329.90,614.37 1330.20,614.22 1330.50,614.96 1330.80,616.71 1331.10,616.72 1331.40,615.93 1331.70,615.89 1332.00,617.15 1332.30,616.97 1332.60,617.84 1332.90,617.04 1333.20,616.19 1333.50,616.24 1333.80,616.72 1334.10,617.53 1334.40,618.07 1334.70,617.69 1335.00,616.30 1335.30,618.77 1335.60,617.50 1335.90,617.72 1336.20,616.83 1336.50,616.97 1336.80,616.90 1337.10,617.92 1337.40,618.71 1337.70,617.03 1338.00,617.26 1338.30,617.10 1338.60,616.43 1338.90,616.38 1339.20,618.38 1339.50,618.89 1339.80,616.46 1340.10,616.55 1340.40,617.53 1340.70,617.15 1341.00,617.00 1341.30,618.62 1341.60,616.86 1341.90,616.86 1342.20,618.71 1342.50,617.98 1342.80,618.14 1343.10,618.10 1343.40,616.43 1343.70,618.90 1344.00,616.43 1344.30,616.95 1344.60,617.60 1344.90,618.54 1345.20,618.83 1345.50,616.38 1345.80,616.72 1346.10,616.40 1346.40,616.72 1346.70,618.74 1347.00,616.58 1347.30,617.76 1347.60,616.87 1347.90,616.38 1348.20,617.09 1348.50,617.04 1348.80,617.78 1349.10,618.64 1349.40,617.74 1349.70,617.75 1350.00,617.09 1350.30,616.83 1350.60,617.61 1350.90,617.39 1351.20,618.71 1351.50,616.91 1351.80,616.43 1352.10,616.50 1352.40,617.19 1352.70,616.94 1353.00,617.40 1353.30,618.66 1353.60,618.26 1353.90,617.91 1354.20,618.53 1354.50,618.66 1356.00,616.54 1357.50,618.17 1359.00,616.72 1360.50,617.45 1362.00,617.39 1363.50,617.09 1365.00,616.50 1366.50,616.89 1368.00,618.22 1369.50,618.88 1371.00,618.75 1372.50,616.45 1374.00,617.87 1375.50,616.89 1377.00,617.75 1378.50,617.79 1378.80,616.82 1379.10,616.63 1379.40,617.65 1379.70,616.54 1380.00,618.59 1380.30,618.71 1380.60,616.44 1380.90,618.48 1381.20,618.58 1381.50,616.51 1381.80,617.93 1382.10,617.64 1382.40,616.86 1382.70,618.53 1383.00,617.88 1383.30,618.52 1383.60,618.84 1383.90,618.93 1384.20,618.13 1384.50,618.67 1384.80,616.57 1385.10,617.28 1385.40,617.64 1385.70,617.74 1386.00,617.36 1386.30,618.53 1386.60,617.92 1386.90,618.61 1387.20,617.56 1387.50,618.86 1387.80,617.33 1388.10,618.99 1388.40,617.88 1388.70,617.39 1389.00,618.02 1389.30,616.69 1389.60,618.20 1389.90,617.97 1390.20,618.51 1390.50,616.61 1390.80,617.50 1391.10,617.94 1391.40,616.57 1391.70,618.40 1392.00,618.75 1392.30,618.04 1392.60,618.40 1392.90,618.87 1393.20,617.60 1393.50,617.74 1393.80,618.72 1394.10,618.17 1394.40,617.13 1394.70,617.94 1395.00,618.40 1395.30,618.60 1395.60,616.73 1395.90,616.82 1396.20,618.16 1396.50,618.22 1396.80,618.23 1397.10,617.58 1397.40,617.27 1397.70,618.72 1398.00,616.83 1398.30,616.84 1398.60,616.06 1398.90,616.10 1399.20,617.37 1399.50,617.31 1399.80,615.96 1400.10,617.09 1400.40,615.34 1400.70,615.57 1401.00,615.93 1401.30,615.92 1401.60,614.68 1401.90,615.17 1402.20,613.84 1402.50,613.87 1402.80,613.83 1403.10,612.64 1403.40,612.16 1403.70,612.67 1404.00,609.91 1404.30,609.49 1404.60,609.21 1404.90,609.66 1405.20,610.05 1405.50,610.14 1405.80,610.27 1406.10,608.58 1406.40,610.93 1406.70,609.47 1407.00,611.63 1407.30,610.35 1407.60,612.02 1407.90,612.10 1408.20,610.77 1408.50,612.51 1408.80,612.69 1409.10,614.73 1409.40,613.23 1409.70,614.11 1410.00,613.96 1410.30,613.92 1410.60,615.68 1410.90,616.23 1411.20,615.33 1411.50,617.35 1411.80,615.98 1412.10,618.03 1412.40,617.51 1412.70,618.43 1413.00,617.15 1413.30,618.29 1413.60,617.76 1413.90,618.10 1414.20,617.36 1414.50,617.66 1414.80,617.07 1415.10,617.26 1415.40,618.80 1415.70,616.61 1416.00,618.58 1416.30,618.38 1416.60,616.85 1416.90,617.55 1417.20,618.61 1417.50,617.76 1417.80,617.76 1418.10,617.75 1418.40,616.89 1418.70,619.02 1419.00,618.39 1419.30,617.19 1419.60,617.35 1419.90,618.29 1420.20,618.71 1420.50,617.88 1420.80,617.19 1421.10,617.38 1421.40,617.86 1421.70,618.75 1422.00,618.28 1422.30,617.03 1422.60,616.50 1422.90,618.16 1423.20,617.13 1423.50,618.73 1423.80,616.87 1424.10,619.04 1424.40,618.53 1424.70,617.11 1425.00,616.49 1425.30,618.59 1425.60,616.74 1425.90,616.85 1426.20,617.45 1426.50,616.90 1426.80,616.70 1427.10,617.88 1427.40,618.16 1427.70,618.50 1428.00,616.61 1428.30,616.59 1428.60,617.68 1428.90,618.38 1429.20,617.00 1429.50,618.00 1429.80,616.74 1430.10,618.79 1430.40,618.73 1430.70,618.89 1431.00,617.47 1431.30,616.67 1431.60,618.58 1431.90,617.61 1432.20,617.37 1432.50,617.57 1432.80,618.30 1433.10,618.35 1433.40,617.59 1433.70,617.15 1434.00,616.85 1435.50,616.60 1437.00,618.97 1438.50,618.98 1440.00,616.64 1441.50,618.01 1443.00,619.00 1444.50,617.97 1446.00,619.00 1447.50,616.85 1449.00,618.35 1450.50,618.67 1452.00,616.78 1453.50,617.02 1455.00,618.95 1456.50,617.09 1458.00,618.09 1459.50,618.86 1461.00,618.34 1462.50,618.50 1464.00,617.27" fill="none" stroke="#000" stroke-width="5.2" stroke-linejoin="round" stroke-linecap="butt"/>
<path d="M295.80,797.50 297.30,797.54 298.80,795.65 300.30,795.77 301.80,797.49 303.30,797.33 304.80,797.25 306.30,796.52 307.80,797.24 309.30,797.31 310.80,797.32 312.30,796.45 313.80,797.12 315.30,797.10 316.80,797.89 318.30,798.55 319.80,798.52 321.30,797.69 322.80,797.54 324.30,797.21 325.80,796.77 327.30,796.81 328.80,797.84 330.30,797.58 331.80,797.79 333.30,798.98 334.80,798.24 336.30,798.38 337.80,797.73 339.30,797.33 340.80,798.05 342.30,797.70 343.80,798.59 345.30,799.73 346.80,799.08 348.30,798.06 349.80,799.69 351.30,799.55 352.80,799.47 354.30,799.92 355.80,799.67 357.30,799.79 358.80,798.90 360.30,800.34 361.80,800.36 363.30,798.67 364.80,800.04 366.30,800.02 367.80,799.52 369.30,799.74 370.80,799.71 372.30,800.74 373.80,799.87 375.30,800.66 376.80,799.67 378.30,800.90 379.80,801.01 381.30,800.11 382.80,800.40 384.30,801.25 385.80,800.88 387.30,800.42 388.80,799.90 390.30,800.19 391.80,801.08 393.30,799.98 394.80,801.67 396.30,800.33 397.80,801.81 399.30,800.55 400.80,802.05 402.30,801.57 403.80,801.20 405.30,801.30 406.80,801.67 408.30,801.61 409.80,801.08 411.30,800.92 412.80,801.67 414.30,802.67 415.80,802.06 417.30,800.93 418.80,802.64 420.30,802.51 421.80,802.99 423.30,801.49 424.80,802.78 426.30,801.34 427.80,802.73 429.30,801.97 430.80,801.94 432.30,803.44 433.80,801.82 435.30,802.81 436.80,803.62 438.30,802.35 439.80,802.35 441.30,803.90 442.80,802.97 444.30,803.69 445.80,802.26 447.30,803.06 448.80,802.72 450.30,803.90 450.60,802.61 450.90,804.55 451.20,802.52 451.50,804.08 451.80,802.54 452.10,803.07 452.40,804.31 452.70,802.88 453.00,802.95 453.30,804.09 453.60,803.43 453.90,802.69 454.20,804.79 454.50,802.96 454.80,802.72 455.10,803.41 455.40,804.02 455.70,804.32 456.00,802.95 456.30,803.46 456.60,802.80 456.90,803.73 457.20,804.45 457.50,804.40 457.80,804.77 458.10,804.47 458.40,804.72 458.70,804.39 459.00,803.89 459.30,803.36 459.60,804.33 459.90,803.59 460.20,803.13 460.50,803.91 460.80,804.86 461.10,803.24 461.40,804.26 461.70,803.85 462.00,804.13 462.30,803.33 462.60,805.14 462.90,803.62 463.20,804.39 463.50,804.00 463.80,803.13 464.10,804.33 464.40,803.43 464.70,803.26 465.00,803.22 465.30,803.52 465.60,803.39 465.90,804.59 466.20,804.33 466.50,805.39 466.80,805.30 467.10,805.44 467.40,803.78 467.70,804.26 468.00,803.85 468.30,804.62 468.60,804.70 468.90,805.11 469.20,804.92 469.50,803.94 469.80,804.32 470.10,804.56 470.40,803.43 470.70,803.51 471.00,804.35 471.30,803.71 471.60,805.07 471.90,804.02 472.20,803.72 472.50,803.91 472.80,804.03 473.10,804.01 473.40,804.69 473.70,804.57 474.00,804.24 474.30,804.97 474.60,804.02 474.90,805.54 475.20,805.66 475.50,805.12 475.80,804.45 476.10,804.58 476.40,804.69 476.70,803.46 477.00,804.19 477.30,804.33 477.60,803.45 477.90,803.10 478.20,804.48 478.50,803.30 478.80,803.38 479.10,803.95 479.40,802.90 479.70,801.77 480.00,802.79 480.30,800.87 480.60,799.43 480.90,800.13 481.20,797.98 481.50,797.46 481.80,797.53 482.10,795.93 482.40,793.12 482.70,792.57 483.00,790.83 483.30,789.18 483.60,786.61 483.90,785.33 484.20,781.92 484.50,779.97 484.80,777.60 485.10,776.15 485.40,771.45 485.70,770.03 486.00,765.80 486.30,763.57 486.60,760.08 486.90,757.12 487.20,754.67 487.50,750.83 487.80,747.25 488.10,744.39 488.40,741.57 488.70,740.71 489.00,737.90 489.30,736.49 489.60,734.04 489.90,731.00 490.20,731.12 490.50,730.43 490.80,729.69 491.10,728.91 491.40,728.67 491.70,729.30 492.00,730.81 492.30,730.73 492.60,732.69 492.90,734.28 493.20,737.30 493.50,739.19 493.80,741.92 494.10,744.35 494.40,745.96 494.70,748.75 495.00,752.34 495.30,754.93 495.60,758.43 495.90,762.12 496.20,765.76 496.50,768.09 496.80,771.60 497.10,772.91 497.40,776.28 497.70,780.37 498.00,781.03 498.30,784.02 498.60,785.50 498.90,787.63 499.20,791.35 499.50,793.34 499.80,794.22 500.10,794.56 500.40,796.28 500.70,797.35 501.00,799.39 501.30,800.38 501.60,800.70 501.90,801.64 502.20,801.40 502.50,802.92 502.80,804.32 503.10,804.32 503.40,803.24 503.70,804.49 504.00,805.20 504.30,804.42 504.60,806.02 504.90,805.23 505.20,805.90 505.50,805.36 505.80,806.76 506.10,806.37 506.40,805.98 506.70,805.09 507.00,805.79 507.30,804.93 507.60,806.21 507.90,806.87 508.20,805.35 508.50,806.10 508.80,806.06 509.10,805.90 509.40,806.59 509.70,807.10 510.00,806.61 510.30,806.11 510.60,807.20 510.90,805.82 511.20,806.74 511.50,806.56 511.80,806.80 512.10,807.01 512.40,805.64 512.70,806.52 513.00,806.05 513.30,806.64 513.60,807.34 513.90,806.59 514.20,805.23 514.50,806.24 514.80,806.79 515.10,807.18 515.40,806.68 515.70,807.05 516.00,805.30 516.30,807.35 516.60,806.89 516.90,806.63 517.20,807.30 517.50,807.26 517.80,805.55 518.10,807.13 518.40,807.03 518.70,805.80 519.00,807.00 519.30,806.67 519.60,805.81 519.90,807.17 520.20,805.71 520.50,806.76 520.80,806.38 521.10,805.99 521.40,806.69 521.70,806.48 522.00,805.92 522.30,807.60 522.60,805.65 522.90,805.50 523.20,806.57 523.50,807.36 523.80,806.98 524.10,807.20 524.40,806.61 524.70,807.04 525.00,806.30 525.30,806.16 525.60,806.69 525.90,805.66 526.20,805.78 526.50,807.28 526.80,806.01 527.10,807.29 527.40,807.37 527.70,806.55 528.00,807.15 528.30,807.41 528.60,807.59 528.90,805.99 529.20,806.06 529.50,806.56 529.80,806.75 530.10,806.39 530.40,805.77 530.70,806.98 531.00,807.89 531.30,806.58 531.60,806.97 531.90,806.64 532.20,806.78 532.50,807.73 532.80,806.51 533.10,807.26 533.40,806.91 534.90,807.08 536.40,807.96 537.90,806.17 539.40,807.86 540.90,806.77 542.40,807.57 543.90,807.95 545.40,807.68 546.90,807.16 548.40,808.20 549.90,806.60 551.40,807.84 552.90,807.36 553.20,807.67 553.50,808.39 553.80,808.28 554.10,807.92 554.40,807.22 554.70,807.07 555.00,807.57 555.30,807.09 555.60,807.20 555.90,808.70 556.20,806.85 556.50,808.42 556.80,807.46 557.10,807.44 557.40,807.35 557.70,806.83 558.00,807.67 558.30,807.04 558.60,807.66 558.90,807.34 559.20,808.67 559.50,808.74 559.80,807.70 560.10,808.14 560.40,808.79 560.70,807.47 561.00,806.99 561.30,807.30 561.60,807.20 561.90,808.29 562.20,807.63 562.50,807.60 562.80,808.58 563.10,807.35 563.40,808.63 563.70,808.25 564.00,807.75 564.30,808.69 564.60,807.64 564.90,808.83 565.20,808.94 565.50,808.02 565.80,808.44 566.10,809.02 566.40,808.58 566.70,808.61 567.00,808.88 567.30,809.03 567.60,808.64 567.90,809.15 568.20,807.65 568.50,808.39 568.80,808.50 569.10,807.85 569.40,807.92 569.70,807.44 570.00,809.17 570.30,807.86 570.60,808.14 570.90,809.06 571.20,807.52 571.50,809.23 571.80,807.41 572.10,807.20 572.40,807.92 572.70,807.95 573.00,809.18 573.30,809.12 573.60,808.86 573.90,808.15 574.20,808.40 574.50,807.73 574.80,809.05 575.10,808.09 575.40,807.86 575.70,808.65 576.00,807.58 576.30,807.95 576.60,809.29 576.90,807.46 577.20,807.56 577.50,807.70 577.80,807.79 578.10,808.15 578.40,807.75 578.70,807.92 579.00,807.67 579.30,807.61 579.60,808.36 579.90,807.67 580.20,807.65 580.50,808.39 580.80,806.68 581.10,806.67 581.40,808.00 581.70,806.80 582.00,807.25 582.30,805.45 582.60,805.87 582.90,806.06 583.20,804.35 583.50,804.60 583.80,803.47 584.10,802.10 584.40,802.40 584.70,799.93 585.00,798.82 585.30,797.71 585.60,795.45 585.90,794.85 586.20,792.40 586.50,790.29 586.80,787.92 587.10,786.47 587.40,783.88 587.70,780.78 588.00,777.02 588.30,773.86 588.60,770.92 588.90,766.57 589.20,763.33 589.50,761.83 589.80,756.45 590.10,754.74 590.40,750.72 590.70,747.85 591.00,742.71 591.30,740.05 591.60,738.14 591.90,733.61 592.20,731.28 592.50,729.53 592.80,727.16 593.10,725.44 593.40,725.28 593.70,723.06 594.00,724.42 594.30,723.53 594.60,722.41 594.90,724.86 595.20,724.38 595.50,726.23 595.80,728.07 596.10,729.14 596.40,732.23 596.70,733.82 597.00,736.93 597.30,741.52 597.60,744.48 597.90,747.13 598.20,750.88 598.50,754.77 598.80,756.65 599.10,760.92 599.40,763.58 599.70,766.94 600.00,770.23 600.30,773.66 600.60,776.38 600.90,779.67 601.20,782.81 601.50,785.96 601.80,788.93 602.10,791.30 602.40,792.99 602.70,794.46 603.00,797.12 603.30,797.06 603.60,798.38 603.90,801.25 604.20,801.99 604.50,802.10 604.80,803.38 605.10,804.00 605.40,804.99 605.70,805.60 606.00,806.06 606.30,807.39 606.60,807.81 606.90,807.60 607.20,807.68 607.50,807.51 607.80,808.76 608.10,809.42 608.40,807.90 608.70,809.06 609.00,809.14 609.30,809.14 609.60,807.82 609.90,809.02 610.20,808.30 610.50,808.32 610.80,809.20 611.10,809.37 611.40,809.35 611.70,809.62 612.00,809.55 612.30,809.07 612.60,808.14 612.90,809.74 613.20,809.86 613.50,809.90 613.80,809.39 614.10,808.16 614.40,808.52 614.70,808.33 615.00,809.50 615.30,809.30 615.60,808.52 615.90,810.22 616.20,810.28 616.50,810.11 616.80,809.16 617.10,808.78 617.40,808.61 617.70,809.97 618.00,809.70 618.30,808.78 618.60,810.16 618.90,809.43 619.20,809.09 619.50,809.10 619.80,809.78 620.10,809.20 620.40,809.66 620.70,808.48 621.00,809.77 621.30,808.82 621.60,810.24 621.90,808.71 622.20,808.98 622.50,809.43 622.80,809.12 623.10,809.42 623.40,810.30 623.70,808.72 624.00,809.98 624.30,809.81 624.60,810.02 624.90,809.28 625.20,809.30 625.50,809.07 625.80,809.35 626.10,808.88 626.40,808.74 626.70,809.37 627.00,808.75 627.30,809.36 627.60,809.59 627.90,809.01 628.20,808.70 628.50,809.64 628.80,810.19 629.10,808.77 629.40,809.61 629.70,809.67 630.00,810.12 630.30,809.62 630.60,808.73 630.90,808.41 631.20,809.69 631.50,808.36 631.80,807.56 632.10,809.24 632.40,807.51 632.70,807.46 633.00,807.12 633.30,806.57 633.60,807.12 633.90,805.72 634.20,805.29 634.50,804.51 634.80,804.59 635.10,801.87 635.40,802.07 635.70,799.95 636.00,798.74 636.30,798.39 636.60,796.42 636.90,794.18 637.20,793.69 637.50,792.68 637.80,790.30 638.10,788.14 638.40,786.95 638.70,785.34 639.00,781.81 639.30,780.33 639.60,780.06 639.90,778.33 640.20,775.22 640.50,774.94 640.80,774.11 641.10,772.47 641.40,771.90 641.70,770.92 642.00,769.93 642.30,769.77 642.60,769.56 642.90,771.26 643.20,770.70 643.50,772.58 643.80,773.11 644.10,774.43 644.40,776.99 644.70,777.25 645.00,779.09 645.30,780.63 645.60,782.08 645.90,783.96 646.20,786.52 646.50,789.02 646.80,789.26 647.10,792.94 647.40,794.08 647.70,794.37 648.00,797.38 648.30,798.17 648.60,799.79 648.90,800.14 649.20,802.20 649.50,803.26 649.80,804.78 650.10,805.18 650.40,806.19 650.70,806.91 651.00,806.36 651.30,806.42 651.60,807.85 651.90,807.44 652.20,807.78 652.50,808.44 652.80,809.14 653.10,809.49 653.40,809.71 653.70,810.49 654.00,808.74 654.30,809.83 654.60,808.86 654.90,810.20 655.20,809.73 655.50,809.12 655.80,809.52 656.10,810.32 656.40,809.93 656.70,810.98 657.00,809.70 657.30,809.68 657.60,810.97 657.90,810.28 658.20,809.19 658.50,810.69 658.80,809.77 659.10,811.06 659.40,810.39 659.70,810.76 660.00,810.97 660.30,810.13 660.60,811.14 660.90,809.07 661.20,809.77 661.50,810.87 661.80,809.05 662.10,810.52 662.40,811.25 662.70,810.63 663.00,810.96 663.30,809.23 663.60,810.26 663.90,810.42 664.20,810.04 664.50,810.01 664.80,810.84 665.10,809.46 665.40,809.21 665.70,810.42 666.00,811.25 666.30,810.95 666.60,810.61 666.90,809.79 667.20,811.13 667.50,809.24 667.80,809.70 668.10,810.90 668.40,811.14 668.70,810.06 669.00,811.18 669.30,809.43 669.60,810.51 669.90,809.35 670.20,809.72 670.50,809.63 670.80,809.23 671.10,810.11 671.40,810.33 671.70,809.85 672.00,810.67 672.30,809.36 672.60,810.39 672.90,810.42 673.20,810.15 673.50,811.28 673.80,809.55 674.10,810.22 674.40,810.30 674.70,810.11 675.00,811.44 675.30,810.56 675.60,810.45 675.90,810.29 676.20,810.29 676.50,811.42 676.80,811.09 677.10,810.77 677.40,809.71 677.70,810.66 678.00,809.64 678.30,810.14 678.60,809.42 680.10,810.95 681.60,811.56 683.10,810.83 684.60,810.70 686.10,810.01 687.60,810.44 689.10,810.50 690.60,810.43 692.10,810.10 693.60,810.01 695.10,811.19 696.60,811.65 698.10,811.37 699.60,810.95 701.10,809.65 702.60,810.27 704.10,811.47 705.60,811.77 707.10,810.85 708.60,810.91 710.10,811.18 711.60,810.23 713.10,811.27 714.60,810.52 716.10,811.59 717.60,810.76 719.10,811.21 720.60,810.99 722.10,810.96 723.60,810.81 725.10,811.90 726.60,811.48 728.10,810.76 729.60,810.96 731.10,811.84 732.60,811.52 732.90,811.32 733.20,811.99 733.50,810.14 733.80,811.20 734.10,811.27 734.40,810.89 734.70,812.02 735.00,812.03 735.30,810.76 735.60,811.26 735.90,811.59 736.20,811.44 736.50,810.71 736.80,811.67 737.10,810.69 737.40,810.25 737.70,811.39 738.00,811.36 738.30,810.83 738.60,811.03 738.90,812.11 739.20,811.72 739.50,810.84 739.80,811.95 740.10,811.20 740.40,810.84 740.70,811.37 741.00,811.68 741.30,811.93 741.60,811.43 741.90,811.43 742.20,810.85 742.50,810.06 742.80,810.97 743.10,810.23 743.40,812.05 743.70,810.78 744.00,811.31 744.30,811.60 744.60,810.38 744.90,811.82 745.20,810.71 745.50,810.17 745.80,811.32 746.10,810.89 746.40,812.03 746.70,810.98 747.00,810.22 747.30,810.05 747.60,810.08 747.90,811.10 748.20,811.59 748.50,810.14 748.80,810.75 749.10,811.08 749.40,812.01 749.70,812.17 750.00,811.96 750.30,811.44 750.60,811.31 750.90,810.53 751.20,811.39 751.50,810.41 751.80,810.72 752.10,811.88 752.40,811.31 752.70,811.66 753.00,811.09 753.30,810.68 753.60,811.18 753.90,811.33 754.20,810.60 754.50,811.93 754.80,812.23 755.10,810.48 755.40,810.61 755.70,811.86 756.00,811.67 756.30,810.57 756.60,811.37 756.90,810.60 757.20,811.97 757.50,811.36 757.80,811.18 758.10,810.41 758.40,810.93 758.70,811.07 759.00,810.81 759.30,810.38 759.60,810.40 759.90,811.47 760.20,811.93 760.50,811.71 760.80,811.15 761.10,811.48 761.40,809.96 761.70,810.05 762.00,811.05 762.30,809.40 762.60,809.47 762.90,810.87 763.20,809.45 763.50,809.27 763.80,809.56 764.10,810.34 764.40,808.32 764.70,810.01 765.00,808.53 765.30,808.87 765.60,808.40 765.90,807.36 766.20,808.93 766.50,806.93 766.80,808.03 767.10,807.90 767.40,806.68 767.70,807.52 768.00,805.27 768.30,805.20 768.60,805.69 768.90,804.56 769.20,805.97 769.50,805.16 769.80,805.60 770.10,804.34 770.40,803.67 770.70,805.50 771.00,803.96 771.30,804.42 771.60,803.81 771.90,804.89 772.20,804.71 772.50,804.26 772.80,804.06 773.10,804.90 773.40,806.09 773.70,804.93 774.00,805.34 774.30,806.46 774.60,806.77 774.90,807.43 775.20,807.37 775.50,808.11 775.80,806.87 776.10,808.84 776.40,807.16 776.70,807.63 777.00,807.86 777.30,809.59 777.60,809.24 777.90,810.38 778.20,810.71 778.50,810.85 778.80,810.29 779.10,809.88 779.40,811.37 779.70,811.01 780.00,809.95 780.30,810.85 780.60,809.78 780.90,809.86 781.20,811.30 781.50,811.55 781.80,811.92 782.10,811.74 782.40,810.42 782.70,811.79 783.00,812.35 783.30,811.71 783.60,811.30 783.90,810.92 784.20,810.43 784.50,811.68 784.80,812.43 785.10,810.58 785.40,812.14 785.70,812.32 786.00,811.12 786.30,812.22 786.60,810.70 786.90,811.03 787.20,811.62 787.50,812.31 787.80,811.56 788.10,810.58 788.40,812.43 788.70,811.64 789.00,812.10 789.30,810.90 789.60,811.13 789.90,810.60 790.20,810.81 790.50,811.37 790.80,811.31 791.10,811.85 791.40,812.25 791.70,811.15 792.00,812.45 792.30,811.86 792.60,811.18 792.90,810.83 793.20,812.53 793.50,811.88 793.80,810.53 794.10,811.94 794.40,811.27 794.70,811.37 795.00,812.13 795.30,810.94 795.60,811.04 795.90,811.64 796.20,812.45 796.50,810.65 796.80,812.30 797.10,812.05 797.40,810.86 797.70,811.93 798.00,811.84 798.30,812.04 798.60,811.66 798.90,811.17 799.20,811.59 799.50,811.01 799.80,811.49 800.10,811.39 800.40,810.73 800.70,811.01 801.00,811.26 801.30,811.37 801.60,811.74 801.90,812.15 802.20,811.08 802.50,811.73 802.80,811.26 803.10,811.02 803.40,810.83 803.70,812.64 804.00,812.58 804.30,812.36 804.60,810.91 804.90,810.87 805.20,810.77 805.50,811.20 805.80,811.48 806.10,810.56 806.40,811.48 806.70,812.07 807.00,812.39 807.30,810.97 807.60,810.56 807.90,812.31 808.20,811.40 808.50,811.26 808.80,810.91 809.10,811.16 809.40,811.16 809.70,811.14 810.00,811.09 810.30,811.72 810.60,812.38 810.90,811.27 811.20,811.51 811.50,811.66 813.00,812.46 814.50,812.31 816.00,812.80 817.50,811.03 819.00,812.44 820.50,811.33 822.00,811.96 823.50,811.86 825.00,811.98 826.50,811.44 828.00,810.90 829.50,810.78 831.00,812.81 832.50,812.74 834.00,811.81 835.50,811.01 837.00,812.67 838.50,811.94 840.00,811.89 841.50,812.27 843.00,811.23 844.50,811.38 846.00,812.70 847.50,812.54 849.00,813.10 850.50,811.90 852.00,813.10 853.50,812.93 855.00,812.11 856.50,812.97 858.00,811.38 859.50,811.19 861.00,812.84 862.50,811.37 864.00,812.21 865.50,812.71 867.00,812.59 868.50,811.60 870.00,812.86 871.50,811.23 873.00,812.39 874.50,813.14 876.00,812.38 877.50,811.86 879.00,813.40 880.50,812.82 882.00,812.98 883.50,813.22 885.00,813.32 886.50,812.54 888.00,813.10 889.50,812.41 891.00,811.88 892.50,811.94 894.00,811.92 895.50,811.42 897.00,812.74 897.30,812.26 897.60,813.38 897.90,811.49 898.20,813.11 898.50,811.82 898.80,812.10 899.10,812.04 899.40,813.50 899.70,812.82 900.00,812.43 900.30,811.81 900.60,811.51 900.90,812.22 901.20,813.55 901.50,812.39 901.80,812.90 902.10,813.36 902.40,811.53 902.70,812.13 903.00,812.35 903.30,811.93 903.60,812.28 903.90,812.94 904.20,811.74 904.50,812.97 904.80,812.10 905.10,812.90 905.40,811.84 905.70,813.19 906.00,812.38 906.30,813.29 906.60,813.59 906.90,812.75 907.20,811.52 907.50,812.28 907.80,813.62 908.10,812.92 908.40,813.15 908.70,812.53 909.00,813.56 909.30,813.49 909.60,812.84 909.90,812.80 910.20,811.73 910.50,811.52 910.80,811.96 911.10,813.10 911.40,813.38 911.70,813.21 912.00,813.47 912.30,811.59 912.60,811.59 912.90,812.09 913.20,811.57 913.50,812.82 913.80,813.58 914.10,813.52 914.40,811.78 914.70,813.01 915.00,813.02 915.30,812.99 915.60,812.45 915.90,812.07 916.20,813.49 916.50,813.53 916.80,813.11 917.10,812.72 917.40,811.59 917.70,812.10 918.00,812.00 918.30,811.97 918.60,811.87 918.90,812.81 919.20,812.77 919.50,811.57 919.80,813.05 920.10,810.93 920.40,812.86 920.70,811.82 921.00,811.70 921.30,810.59 921.60,811.12 921.90,811.08 922.20,809.09 922.50,808.32 922.80,809.07 923.10,807.08 923.40,805.86 923.70,805.68 924.00,803.87 924.30,802.66 924.60,801.43 924.90,799.49 925.20,799.49 925.50,797.22 925.80,795.60 926.10,792.92 926.40,792.04 926.70,790.48 927.00,788.58 927.30,784.52 927.60,783.19 927.90,780.87 928.20,780.00 928.50,778.83 928.80,777.31 929.10,775.54 929.40,775.89 929.70,774.40 930.00,774.73 930.30,773.25 930.60,773.78 930.90,772.90 931.20,774.44 931.50,775.52 931.80,775.68 932.10,777.83 932.40,778.22 932.70,780.58 933.00,782.67 933.30,784.25 933.60,785.47 933.90,787.53 934.20,789.93 934.50,792.51 934.80,793.96 935.10,795.31 935.40,797.40 935.70,799.03 936.00,800.24 936.30,802.70 936.60,803.79 936.90,804.70 937.20,805.09 937.50,808.09 937.80,807.06 938.10,807.98 938.40,809.05 938.70,810.72 939.00,811.54 939.30,811.58 939.60,810.72 939.90,812.41 940.20,810.89 940.50,811.27 940.80,811.43 941.10,812.56 941.40,812.74 941.70,812.90 942.00,813.68 942.30,813.31 942.60,813.33 942.90,812.11 943.20,813.76 943.50,813.80 943.80,813.62 944.10,811.99 944.40,813.39 944.70,812.97 945.00,813.02 945.30,812.43 945.60,813.55 945.90,813.63 946.20,813.55 946.50,812.53 946.80,813.49 947.10,812.06 947.40,813.37 947.70,811.94 948.00,811.89 948.30,812.11 948.60,813.32 948.90,814.05 949.20,812.92 949.50,813.31 949.80,813.19 950.10,813.75 950.40,814.04 950.70,813.71 951.00,812.64 951.30,812.07 951.60,813.88 951.90,812.53 952.20,813.59 952.50,813.83 952.80,812.30 953.10,812.36 953.40,812.86 953.70,813.79 954.00,813.81 954.30,814.13 954.60,812.55 954.90,813.32 955.20,813.87 955.50,812.78 955.80,813.25 956.10,812.46 956.40,813.85 956.70,812.94 957.00,813.04 957.30,813.42 957.60,812.68 957.90,813.77 958.20,812.99 958.50,812.93 958.80,813.58 959.10,813.46 959.40,813.56 959.70,813.92 960.00,813.78 960.30,812.90 960.60,813.42 960.90,813.91 961.20,812.13 961.50,813.47 961.80,813.18 962.10,812.91 962.40,812.29 962.70,812.66 963.00,813.68 963.30,813.98 963.60,814.21 963.90,813.70 964.20,813.98 964.50,813.86 966.00,812.42 967.50,813.59 969.00,814.00 970.50,813.76 972.00,812.73 973.50,813.68 975.00,813.01 976.50,813.12 978.00,813.79 979.50,813.68 981.00,812.51 982.50,813.63 984.00,812.37 985.50,812.71 987.00,814.08 988.50,814.29 990.00,812.86 991.50,814.00 993.00,812.73 994.50,813.44 996.00,813.13 997.50,812.56 999.00,813.34 1000.50,813.62 1002.00,814.29 1003.50,812.66 1005.00,813.08 1006.50,812.47 1008.00,812.94 1009.50,813.08 1011.00,814.31 1012.50,814.59 1014.00,813.01 1015.50,813.62 1017.00,813.72 1018.50,813.66 1020.00,814.71 1021.50,814.71 1023.00,812.71 1024.50,813.54 1026.00,813.82 1027.50,814.10 1029.00,813.86 1030.50,814.51 1032.00,812.94 1033.50,813.75 1035.00,814.58 1036.50,813.14 1038.00,813.16 1039.50,814.15 1041.00,813.13 1042.50,814.02 1044.00,813.11 1045.50,813.27 1047.00,813.61 1048.50,814.61 1050.00,814.24 1051.50,814.25 1053.00,814.31 1054.50,813.82 1056.00,815.11 1057.50,814.28 1059.00,814.37 1060.50,813.15 1062.00,813.57 1063.50,814.32 1065.00,815.15 1066.50,814.61 1068.00,813.20 1069.50,814.87 1071.00,813.58 1072.50,814.43 1074.00,813.56 1075.50,813.29 1077.00,814.87 1078.50,814.25 1080.00,814.53 1081.50,814.77 1083.00,814.54 1084.50,814.16 1086.00,813.97 1087.50,814.44 1089.00,813.83 1090.50,813.88 1092.00,815.10 1093.50,814.09 1095.00,814.94 1096.50,814.86 1098.00,814.40 1099.50,815.12 1101.00,814.13 1102.50,813.41 1104.00,815.27 1105.50,815.06 1107.00,815.03 1108.50,815.44 1110.00,814.31 1111.50,814.35 1113.00,814.77 1113.30,815.34 1113.60,814.04 1113.90,815.09 1114.20,815.53 1114.50,813.98 1114.80,813.46 1115.10,813.78 1115.40,814.84 1115.70,813.90 1116.00,815.51 1116.30,813.63 1116.60,815.39 1116.90,814.20 1117.20,815.45 1117.50,814.17 1117.80,813.67 1118.10,814.91 1118.40,814.08 1118.70,815.49 1119.00,815.24 1119.30,813.99 1119.60,814.51 1119.90,814.64 1120.20,815.13 1120.50,814.01 1120.80,814.67 1121.10,814.57 1121.40,814.72 1121.70,814.65 1122.00,814.38 1122.30,814.28 1122.60,814.30 1122.90,815.62 1123.20,814.58 1123.50,813.67 1123.80,814.30 1124.10,815.12 1124.40,814.93 1124.70,813.61 1125.00,814.34 1125.30,814.43 1125.60,815.29 1125.90,814.02 1126.20,815.45 1126.50,815.23 1126.80,813.48 1127.10,814.53 1127.40,814.61 1127.70,814.83 1128.00,815.39 1128.30,813.88 1128.60,815.26 1128.90,813.46 1129.20,815.27 1129.50,814.01 1129.80,813.50 1130.10,815.23 1130.40,815.57 1130.70,814.88 1131.00,815.15 1131.30,814.30 1131.60,813.97 1131.90,814.88 1132.20,815.19 1132.50,813.99 1132.80,814.21 1133.10,813.96 1133.40,813.92 1133.70,815.21 1134.00,813.27 1134.30,813.25 1134.60,813.54 1134.90,814.77 1135.20,814.19 1135.50,814.47 1135.80,814.18 1136.10,814.42 1136.40,813.53 1136.70,812.03 1137.00,811.90 1137.30,812.23 1137.60,811.18 1137.90,811.15 1138.20,810.57 1138.50,811.57 1138.80,810.91 1139.10,809.60 1139.40,808.33 1139.70,807.55 1140.00,806.00 1140.30,806.02 1140.60,804.50 1140.90,804.51 1141.20,804.30 1141.50,802.58 1141.80,802.48 1142.10,802.00 1142.40,801.56 1142.70,799.92 1143.00,799.02 1143.30,800.09 1143.60,798.97 1143.90,798.33 1144.20,799.21 1144.50,799.71 1144.80,800.20 1145.10,799.20 1145.40,799.40 1145.70,799.91 1146.00,800.64 1146.30,801.16 1146.60,803.46 1146.90,803.64 1147.20,803.18 1147.50,804.12 1147.80,805.16 1148.10,807.72 1148.40,807.14 1148.70,808.94 1149.00,808.39 1149.30,809.01 1149.60,811.29 1149.90,809.96 1150.20,811.43 1150.50,811.96 1150.80,811.96 1151.10,813.25 1151.40,813.78 1151.70,812.68 1152.00,813.08 1152.30,813.69 1152.60,813.84 1152.90,814.31 1153.20,814.74 1153.50,813.88 1153.80,815.28 1154.10,814.27 1154.40,813.38 1154.70,814.28 1155.00,814.55 1155.30,813.81 1155.60,815.36 1155.90,814.75 1156.20,814.59 1156.50,814.08 1156.80,813.76 1157.10,814.07 1157.40,814.88 1157.70,814.98 1158.00,814.98 1158.30,813.55 1158.60,815.19 1158.90,815.01 1159.20,814.98 1159.50,814.63 1159.80,815.36 1160.10,815.60 1160.40,814.77 1160.70,814.43 1161.00,814.67 1161.30,815.25 1161.60,814.97 1161.90,815.19 1162.20,814.17 1162.50,814.81 1162.80,814.01 1163.10,814.76 1163.40,813.52 1163.70,814.66 1164.00,815.09 1164.30,815.49 1164.60,814.56 1164.90,815.41 1165.20,813.93 1165.50,813.52 1165.80,814.71 1166.10,814.25 1166.40,814.36 1166.70,814.81 1167.00,815.15 1167.30,815.39 1167.60,814.20 1167.90,814.77 1168.20,814.88 1168.50,815.00 1168.80,814.78 1169.10,814.52 1169.40,815.28 1169.70,813.54 1170.00,815.23 1170.30,813.86 1170.60,813.90 1170.90,814.98 1171.20,814.50 1171.50,814.25 1171.80,813.67 1172.10,813.61 1172.40,814.09 1172.70,813.71 1173.00,815.03 1173.30,813.94 1173.60,814.34 1173.90,814.43 1174.20,815.05 1174.50,815.30 1174.80,814.89 1175.10,813.98 1175.40,813.81 1175.70,814.73 1176.00,814.31 1176.30,815.10 1176.60,813.98 1176.90,815.02 1177.20,814.29 1177.50,814.12 1177.80,813.90 1178.10,815.17 1178.40,814.62 1178.70,814.70 1179.00,815.34 1179.30,813.57 1179.60,814.71 1179.90,814.23 1180.20,814.05 1180.50,815.33 1180.80,814.04 1181.10,814.41 1181.40,814.47 1181.70,813.82 1182.00,814.19 1182.30,813.52 1182.60,814.61 1182.90,814.90 1183.20,815.71 1183.50,815.62 1183.80,814.25 1184.10,815.63 1184.40,813.74 1184.70,813.84 1185.00,814.68 1185.30,815.02 1185.60,814.82 1185.90,813.60 1186.20,814.41 1186.50,814.60 1186.80,814.37 1187.10,815.19 1187.40,815.15 1187.70,813.70 1188.00,814.53 1188.30,815.04 1188.60,815.24 1188.90,814.96 1189.20,815.65 1189.50,815.12 1189.80,814.35 1190.10,815.31 1190.40,814.80 1190.70,814.75 1191.00,814.73 1191.30,815.05 1191.60,814.92 1191.90,814.34 1192.20,815.02 1192.50,814.16 1192.80,814.80 1193.10,815.10 1193.40,814.17 1193.70,813.22 1194.00,814.76 1194.30,813.09 1194.60,812.92 1194.90,812.36 1195.20,812.96 1195.50,812.66 1195.80,813.29 1196.10,811.54 1196.40,811.62 1196.70,812.06 1197.00,809.95 1197.30,810.28 1197.60,809.13 1197.90,809.86 1198.20,808.13 1198.50,807.03 1198.80,806.14 1199.10,805.48 1199.40,805.62 1199.70,803.32 1200.00,802.09 1200.30,801.40 1200.60,799.80 1200.90,800.09 1201.20,798.89 1201.50,797.10 1201.80,795.35 1202.10,793.37 1202.40,793.52 1202.70,791.15 1203.00,790.51 1203.30,790.19 1203.60,787.31 1203.90,787.11 1204.20,785.44 1204.50,784.62 1204.80,783.39 1205.10,783.20 1205.40,782.07 1205.70,780.38 1206.00,781.63 1206.30,780.01 1206.60,780.04 1206.90,780.25 1207.20,780.58 1207.50,781.15 1207.80,780.09 1208.10,781.16 1208.40,782.29 1208.70,782.70 1209.00,783.04 1209.30,785.20 1209.60,786.61 1209.90,787.02 1210.20,787.97 1210.50,788.37 1210.80,790.37 1211.10,792.35 1211.40,792.65 1211.70,794.26 1212.00,795.61 1212.30,796.63 1212.60,798.60 1212.90,799.15 1213.20,801.75 1213.50,802.74 1213.80,802.70 1214.10,803.23 1214.40,804.14 1214.70,806.83 1215.00,806.85 1215.30,807.00 1215.60,807.60 1215.90,809.91 1216.20,809.28 1216.50,811.43 1216.80,810.71 1217.10,811.78 1217.40,811.58 1217.70,812.63 1218.00,811.83 1218.30,812.40 1218.60,812.34 1218.90,812.43 1219.20,813.73 1219.50,814.84 1219.80,812.82 1220.10,814.86 1220.40,813.67 1220.70,813.48 1221.00,813.27 1221.30,814.04 1221.60,813.51 1221.90,814.46 1222.20,814.42 1222.50,813.81 1222.80,815.41 1223.10,814.77 1223.40,815.17 1223.70,814.04 1224.00,815.12 1224.30,815.07 1224.60,815.25 1224.90,813.96 1225.20,815.64 1225.50,814.56 1225.80,813.74 1226.10,815.59 1226.40,814.24 1226.70,815.54 1227.00,814.03 1227.30,813.73 1227.60,814.70 1227.90,814.78 1228.20,815.06 1228.50,814.99 1228.80,814.37 1229.10,815.25 1229.40,814.71 1229.70,813.90 1230.00,814.86 1230.30,814.35 1230.60,814.78 1230.90,813.93 1231.20,814.14 1231.50,814.16 1231.80,815.04 1232.10,813.63 1232.40,814.50 1232.70,814.47 1233.00,815.50 1233.30,813.85 1233.60,814.72 1233.90,815.37 1234.20,814.48 1234.50,815.69 1234.80,814.14 1235.10,814.67 1235.40,814.26 1235.70,814.21 1236.00,813.74 1236.30,815.30 1236.60,815.03 1236.90,815.43 1237.20,814.64 1237.50,813.99 1237.80,815.04 1238.10,815.64 1238.40,814.81 1238.70,814.17 1239.00,814.74 1239.30,815.47 1239.60,815.39 1239.90,814.97 1240.20,815.22 1240.50,813.66 1240.80,813.89 1241.10,813.62 1241.40,814.58 1241.70,814.67 1242.00,813.63 1242.30,815.40 1242.60,814.80 1242.90,815.20 1243.20,815.72 1243.50,815.28 1243.80,815.24 1244.10,815.00 1244.40,814.75 1244.70,815.29 1245.00,815.32 1245.30,814.26 1245.60,815.37 1245.90,813.93 1246.20,814.77 1246.50,815.63 1246.80,814.08 1247.10,815.56 1247.40,814.67 1247.70,815.21 1248.00,813.94 1248.30,813.72 1248.60,814.16 1248.90,814.91 1249.20,815.57 1249.50,814.85 1249.80,814.75 1250.10,814.44 1250.40,814.71 1250.70,815.18 1251.00,815.51 1252.50,814.37 1254.00,815.09 1255.50,814.38 1257.00,814.17 1258.50,813.74 1260.00,814.51 1261.50,814.96 1263.00,814.74 1264.50,814.61 1266.00,815.32 1267.50,814.63 1269.00,815.15 1270.50,814.86 1272.00,815.73 1273.50,814.37 1275.00,814.61 1276.50,815.33 1278.00,814.29 1279.50,815.39 1281.00,814.36 1282.50,813.99 1284.00,814.85 1285.50,814.89 1287.00,814.33 1288.50,814.26 1290.00,815.86 1291.50,814.77 1293.00,815.23 1294.50,814.59 1296.00,814.88 1297.50,814.30 1299.00,814.04 1300.50,815.51 1302.00,815.18 1303.50,814.35 1305.00,814.57 1306.50,814.91 1308.00,813.83 1309.50,815.04 1311.00,815.88 1312.50,815.20 1314.00,814.72 1315.50,813.96 1317.00,814.88 1318.50,814.98 1320.00,815.24 1321.50,815.64 1323.00,814.30 1324.50,813.94 1326.00,815.84 1327.50,814.89 1329.00,815.67 1330.50,815.05 1332.00,815.70 1333.50,815.04 1335.00,815.32 1336.50,815.12 1338.00,815.82 1339.50,815.38 1341.00,815.87 1342.50,814.65 1344.00,814.19 1345.50,814.18 1347.00,814.74 1348.50,814.96 1350.00,815.26 1351.50,814.77 1353.00,815.87 1354.50,814.64 1356.00,813.77 1357.50,814.91 1359.00,815.20 1360.50,814.29 1362.00,815.39 1363.50,814.19 1365.00,815.75 1366.50,814.75 1368.00,815.86 1369.50,815.12 1371.00,815.36 1372.50,814.23 1374.00,815.71 1375.50,815.96 1377.00,814.11 1378.50,815.06 1380.00,814.14 1381.50,815.72 1383.00,815.69 1384.50,815.80 1386.00,815.48 1387.50,814.65 1389.00,815.19 1390.50,813.93 1392.00,814.03 1393.50,815.02 1395.00,815.43 1396.50,814.45 1398.00,813.84 1399.50,813.91 1401.00,814.54 1402.50,814.63 1404.00,815.81 1405.50,815.34 1407.00,815.76 1408.50,815.48 1410.00,815.37 1411.50,815.51 1413.00,814.32 1414.50,815.50 1416.00,815.11 1417.50,815.25 1419.00,814.93 1420.50,814.82 1422.00,815.70 1423.50,815.60 1425.00,814.27 1426.50,815.74 1428.00,815.04 1429.50,813.99 1431.00,815.59 1432.50,815.79 1434.00,814.81 1435.50,814.80 1437.00,814.46 1438.50,814.29 1440.00,815.04 1441.50,814.83 1443.00,815.31 1444.50,815.32 1446.00,814.30 1447.50,815.57 1449.00,814.87 1450.50,814.78 1452.00,814.29 1453.50,815.23 1455.00,815.38 1456.50,815.61 1458.00,815.70 1459.50,814.66 1461.00,815.10 1462.50,815.25 1464.00,814.75" fill="none" stroke="#f00" stroke-width="4.8" stroke-linejoin="round" stroke-linecap="butt"/>
<path d="M295.00,1087.92 296.50,1088.64 298.00,1088.29 299.50,1088.85 301.00,1088.93 302.50,1087.74 304.00,1087.66 305.50,1089.51 307.00,1088.28 308.50,1088.27 310.00,1089.98 311.50,1088.86 313.00,1089.71 314.50,1088.95 316.00,1089.35 317.50,1088.32 319.00,1089.42 320.50,1089.97 322.00,1089.25 323.50,1089.77 325.00,1089.66 326.50,1088.36 328.00,1089.92 329.50,1089.60 331.00,1089.00 332.50,1088.44 334.00,1090.32 335.50,1089.49 337.00,1090.07 338.50,1090.46 340.00,1090.14 341.50,1090.63 343.00,1089.51 344.50,1090.45 346.00,1089.70 347.50,1090.82 349.00,1090.73 350.50,1089.05 352.00,1089.18 353.50,1089.40 355.00,1091.08 356.50,1089.96 358.00,1090.41 359.50,1089.74 361.00,1090.23 362.50,1090.00 364.00,1089.96 365.50,1090.52 367.00,1090.55 368.50,1091.30 370.00,1090.85 371.50,1091.43 373.00,1091.31 374.50,1091.64 376.00,1090.98 377.50,1089.90 379.00,1091.47 380.50,1091.74 382.00,1091.65 383.50,1090.95 385.00,1091.31 386.50,1090.24 388.00,1091.64 389.50,1091.11 391.00,1090.52 392.50,1090.07 394.00,1091.85 395.50,1092.19 397.00,1090.24 398.50,1091.85 400.00,1091.03 401.50,1090.49 403.00,1090.85 404.50,1091.93 406.00,1092.20 407.50,1090.42 409.00,1091.71 410.50,1090.50 412.00,1092.02 413.50,1091.20 415.00,1092.45 416.50,1092.71 418.00,1091.70 419.50,1092.83 421.00,1091.35 422.50,1090.88 424.00,1092.07 425.50,1090.85 427.00,1091.26 428.50,1091.76 430.00,1092.25 431.50,1091.29 433.00,1091.07 434.50,1092.93 436.00,1091.75 437.50,1093.21 439.00,1093.11 440.50,1092.01 442.00,1092.23 443.50,1092.40 445.00,1092.71 446.50,1092.64 448.00,1092.60 449.50,1092.77 451.00,1093.52 452.50,1092.60 454.00,1092.47 455.50,1093.15 457.00,1092.13 458.50,1092.30 460.00,1093.83 461.50,1092.87 463.00,1092.97 464.50,1091.82 466.00,1092.75 467.50,1093.15 469.00,1091.96 470.50,1093.31 472.00,1093.38 473.50,1092.16 473.80,1093.42 474.10,1093.07 474.40,1093.55 474.70,1092.84 475.00,1093.63 475.30,1093.70 475.60,1092.13 475.90,1092.23 476.20,1093.59 476.50,1094.23 476.80,1092.67 477.10,1093.13 477.40,1093.44 477.70,1092.84 478.00,1092.95 478.30,1092.84 478.60,1092.98 478.90,1093.48 479.20,1092.84 479.50,1093.02 479.80,1093.89 480.10,1092.26 480.40,1093.46 480.70,1093.83 481.00,1092.90 481.30,1092.71 481.60,1094.00 481.90,1092.76 482.20,1092.65 482.50,1093.20 482.80,1093.78 483.10,1092.47 483.40,1092.95 483.70,1092.97 484.00,1094.06 484.30,1093.17 484.60,1094.04 484.90,1092.46 485.20,1092.71 485.50,1093.21 485.80,1093.45 486.10,1092.07 486.40,1090.96 486.70,1089.85 487.00,1089.52 487.30,1087.10 487.60,1086.21 487.90,1083.35 488.20,1078.14 488.50,1073.64 488.80,1069.04 489.10,1061.78 489.40,1054.09 489.70,1043.92 490.00,1033.29 490.30,1022.71 490.60,1012.38 490.90,999.67 491.20,988.60 491.50,978.30 491.80,969.11 492.10,961.62 492.40,957.38 492.70,952.72 493.00,951.96 493.30,956.17 493.60,960.64 493.90,967.69 494.20,975.15 494.50,986.38 494.80,997.38 495.10,1007.34 495.40,1020.02 495.70,1031.37 496.00,1041.44 496.30,1050.64 496.60,1058.57 496.90,1065.98 497.20,1071.87 497.50,1076.59 497.80,1081.81 498.10,1084.35 498.40,1087.97 498.70,1088.15 499.00,1091.41 499.30,1091.95 499.60,1093.16 499.90,1093.59 500.20,1093.93 500.50,1093.44 500.80,1092.35 501.10,1094.06 501.40,1092.86 501.70,1093.18 502.00,1094.00 502.30,1093.72 502.60,1093.49 502.90,1094.65 503.20,1093.94 503.50,1093.35 503.80,1093.16 504.10,1094.50 504.40,1093.66 504.70,1094.34 505.00,1093.40 505.30,1093.06 505.60,1093.81 505.90,1094.44 506.20,1093.02 506.50,1094.39 506.80,1094.68 507.10,1094.43 507.40,1094.48 507.70,1092.69 508.00,1094.06 508.30,1094.58 508.60,1092.80 508.90,1093.29 509.20,1093.29 509.50,1093.86 509.80,1093.64 510.10,1093.75 510.40,1094.43 510.70,1092.73 511.00,1092.85 511.30,1093.01 511.60,1093.01 511.90,1092.89 512.20,1094.89 512.50,1094.63 512.80,1092.95 513.10,1093.87 513.40,1093.46 513.70,1093.46 515.20,1093.57 516.70,1094.25 518.20,1094.14 519.70,1093.67 521.20,1093.32 522.70,1093.65 524.20,1093.22 525.70,1094.20 527.20,1094.58 528.70,1093.86 530.20,1093.23 531.70,1093.47 533.20,1093.93 534.70,1094.46 536.20,1094.88 537.70,1094.02 539.20,1094.97 540.70,1094.60 542.20,1094.21 543.70,1094.10 545.20,1094.40 546.70,1094.88 548.20,1094.28 549.70,1094.91 551.20,1094.42 552.70,1093.98 554.20,1094.64 555.70,1095.02 557.20,1093.67 558.70,1094.47 560.20,1094.50 561.70,1095.52 563.20,1095.67 564.70,1094.46 566.20,1095.64 567.70,1095.43 569.20,1094.29 570.70,1094.76 572.20,1094.04 573.70,1095.58 575.20,1095.28 576.70,1095.80 578.20,1095.61 579.70,1095.36 580.00,1095.51 580.30,1095.15 580.60,1094.14 580.90,1095.21 581.20,1093.93 581.50,1094.24 581.80,1095.63 582.10,1094.03 582.40,1094.14 582.70,1094.16 583.00,1095.89 583.30,1094.35 583.60,1094.01 583.90,1095.82 584.20,1094.24 584.50,1095.83 584.80,1095.46 585.10,1095.83 585.40,1096.09 585.70,1095.27 586.00,1095.76 586.30,1094.09 586.60,1095.70 586.90,1095.14 587.20,1095.60 587.50,1094.26 587.80,1095.68 588.10,1096.09 588.40,1094.17 588.70,1094.75 589.00,1095.27 589.30,1095.83 589.60,1094.50 589.90,1094.29 590.20,1094.30 590.50,1094.87 590.80,1094.78 591.10,1093.35 591.40,1092.29 591.70,1090.83 592.00,1088.48 592.30,1085.42 592.60,1080.21 592.90,1075.10 593.20,1068.25 593.50,1057.03 593.80,1045.53 594.10,1029.75 594.40,1014.36 594.70,996.32 595.00,976.98 595.30,957.39 595.60,939.02 595.90,923.15 596.20,910.65 596.50,900.03 596.80,895.69 597.10,897.99 597.40,904.22 597.70,913.78 598.00,927.85 598.30,945.51 598.60,963.08 598.90,982.60 599.20,1001.38 599.50,1019.94 599.80,1035.26 600.10,1048.84 600.40,1061.34 600.70,1071.19 601.00,1076.99 601.30,1083.38 601.60,1086.76 601.90,1090.61 602.20,1092.00 602.50,1092.64 602.80,1093.41 603.10,1093.53 603.40,1094.88 603.70,1094.88 604.00,1094.54 604.30,1095.03 604.60,1094.99 604.90,1096.01 605.20,1094.63 605.50,1096.51 605.80,1095.39 606.10,1095.66 606.40,1095.38 606.70,1096.19 607.00,1096.17 607.30,1095.59 607.60,1095.43 607.90,1095.96 608.20,1096.26 608.50,1095.27 608.80,1096.00 609.10,1096.51 609.40,1095.43 609.70,1094.91 610.00,1094.93 610.30,1095.99 610.60,1095.91 610.90,1096.53 611.20,1096.31 611.50,1094.97 611.80,1094.86 612.10,1095.01 612.40,1094.86 612.70,1096.01 613.00,1096.35 613.30,1096.45 613.60,1095.03 613.90,1096.38 614.20,1095.17 614.50,1095.42 614.80,1096.10 616.30,1094.71 617.80,1094.75 618.10,1096.38 618.40,1095.19 618.70,1095.34 619.00,1095.84 619.30,1096.05 619.60,1094.59 619.90,1095.31 620.20,1095.54 620.50,1095.66 620.80,1095.06 621.10,1095.89 621.40,1096.71 621.70,1095.47 622.00,1095.81 622.30,1094.88 622.60,1095.23 622.90,1096.09 623.20,1094.88 623.50,1096.59 623.80,1096.64 624.10,1094.86 624.40,1096.73 624.70,1095.48 625.00,1096.36 625.30,1096.34 625.60,1095.33 625.90,1096.17 626.20,1096.12 626.50,1096.46 626.80,1095.28 627.10,1096.36 627.40,1096.82 627.70,1096.19 628.00,1095.90 628.30,1094.97 628.60,1095.81 628.90,1095.51 629.20,1096.32 629.50,1096.23 629.80,1095.99 630.10,1095.15 630.40,1096.18 630.70,1096.15 631.00,1095.16 631.30,1096.72 631.60,1096.21 631.90,1095.04 632.20,1096.81 632.50,1095.07 632.80,1095.47 633.10,1096.31 633.40,1096.00 633.70,1095.86 634.00,1096.00 634.30,1095.49 634.60,1095.04 634.90,1094.58 635.20,1094.12 635.50,1095.25 635.80,1094.97 636.10,1094.04 636.40,1093.90 636.70,1092.36 637.00,1091.31 637.30,1090.56 637.60,1090.45 637.90,1087.27 638.20,1086.74 638.50,1084.45 638.80,1083.70 639.10,1080.75 639.40,1078.53 639.70,1076.43 640.00,1074.44 640.30,1072.66 640.60,1069.53 640.90,1068.53 641.20,1065.02 641.50,1063.73 641.80,1062.01 642.10,1061.05 642.40,1061.91 642.70,1061.60 643.00,1060.62 643.30,1061.24 643.60,1062.74 643.90,1064.81 644.20,1066.62 644.50,1068.37 644.80,1070.12 645.10,1071.37 645.40,1074.22 645.70,1076.07 646.00,1079.07 646.30,1081.34 646.60,1082.59 646.90,1084.60 647.20,1087.50 647.50,1087.40 647.80,1090.48 648.10,1091.86 648.40,1093.00 648.70,1092.62 649.00,1093.70 649.30,1094.36 649.60,1094.94 649.90,1096.07 650.20,1095.73 650.50,1095.11 650.80,1096.52 651.10,1095.83 651.40,1096.19 651.70,1096.55 652.00,1095.01 652.30,1096.74 652.60,1096.53 652.90,1096.18 653.20,1096.27 653.50,1096.15 653.80,1095.57 654.10,1096.32 654.40,1095.24 654.70,1096.27 655.00,1096.59 655.30,1096.16 655.60,1096.43 655.90,1097.30 656.20,1097.16 656.50,1095.50 656.80,1096.95 657.10,1096.58 657.40,1095.33 657.70,1096.01 658.00,1095.74 658.30,1095.40 658.60,1096.42 658.90,1097.29 659.20,1095.96 659.50,1097.17 659.80,1096.78 660.10,1095.56 660.40,1097.16 660.70,1096.59 661.00,1097.32 661.30,1096.86 661.60,1096.91 661.90,1096.05 662.20,1097.07 662.50,1097.35 662.80,1097.20 663.10,1096.27 663.40,1096.98 663.70,1096.39 664.00,1095.57 664.30,1095.43 664.60,1095.51 664.90,1095.78 665.20,1095.70 665.50,1096.45 665.80,1096.90 666.10,1096.55 666.40,1096.30 666.70,1096.80 667.00,1096.05 667.30,1096.41 667.60,1097.05 667.90,1096.28 668.20,1095.80 668.50,1097.38 668.80,1096.99 670.30,1096.24 671.80,1096.28 673.30,1096.65 674.80,1096.82 676.30,1096.03 677.80,1095.57 679.30,1096.05 680.80,1097.33 682.30,1095.93 683.80,1096.63 685.30,1096.06 686.80,1096.10 688.30,1096.02 689.80,1096.54 691.30,1096.03 692.80,1095.73 694.30,1095.92 695.80,1096.06 697.30,1096.77 698.80,1095.83 700.30,1095.76 701.80,1096.71 703.30,1096.62 704.80,1097.28 706.30,1095.86 707.80,1096.64 709.30,1096.63 710.80,1095.83 712.30,1097.90 713.80,1096.27 715.30,1096.00 716.80,1096.85 718.30,1096.17 719.80,1097.19 721.30,1096.59 722.80,1096.11 724.30,1095.96 725.80,1097.45 727.30,1096.46 728.80,1097.60 730.30,1096.90 731.80,1097.94 733.30,1096.55 734.80,1096.45 736.30,1096.49 737.80,1097.71 739.30,1097.31 740.80,1096.69 742.30,1096.15 743.80,1097.45 744.10,1098.08 744.40,1097.26 744.70,1095.96 745.00,1096.02 745.30,1096.16 745.60,1096.33 745.90,1096.04 746.20,1096.08 746.50,1097.40 746.80,1097.95 747.10,1096.41 747.40,1098.11 747.70,1097.02 748.00,1097.74 748.30,1097.99 748.60,1098.04 748.90,1096.05 749.20,1096.65 749.50,1097.32 749.80,1098.06 750.10,1096.18 750.40,1096.63 750.70,1097.86 751.00,1096.24 751.30,1096.85 751.60,1096.73 751.90,1097.49 752.20,1098.04 752.50,1096.38 752.80,1097.63 753.10,1097.62 753.40,1097.84 753.70,1097.22 754.00,1098.04 754.30,1096.81 754.60,1096.92 754.90,1096.51 755.20,1097.73 755.50,1097.07 755.80,1096.61 756.10,1096.39 756.40,1097.60 756.70,1097.35 757.00,1097.58 757.30,1096.87 757.60,1097.10 757.90,1096.36 758.20,1097.59 758.50,1096.08 758.80,1097.06 759.10,1097.70 759.40,1097.52 759.70,1096.24 760.00,1096.54 760.30,1097.87 760.60,1097.42 760.90,1097.92 761.20,1097.88 761.50,1096.92 761.80,1097.86 762.10,1097.44 762.40,1096.49 762.70,1096.46 763.00,1095.67 763.30,1096.21 763.60,1097.20 763.90,1095.04 764.20,1095.69 764.50,1094.23 764.80,1093.62 765.10,1094.21 765.40,1092.52 765.70,1091.17 766.00,1090.32 766.30,1090.17 766.60,1088.64 766.90,1085.81 767.20,1084.58 767.50,1084.34 767.80,1080.71 768.10,1079.37 768.40,1076.89 768.70,1075.50 769.00,1072.93 769.30,1071.21 769.60,1068.64 769.90,1066.02 770.20,1064.35 770.50,1062.74 770.80,1063.29 771.10,1060.95 771.40,1060.33 771.70,1062.35 772.00,1060.96 772.30,1063.15 772.60,1062.37 772.90,1064.50 773.20,1065.54 773.50,1068.67 773.80,1070.17 774.10,1072.32 774.40,1074.75 774.70,1077.19 775.00,1078.22 775.30,1080.90 775.60,1082.58 775.90,1083.76 776.20,1087.12 776.50,1088.21 776.80,1090.15 777.10,1090.10 777.40,1091.97 777.70,1092.78 778.00,1094.20 778.30,1093.48 778.60,1094.66 778.90,1095.45 779.20,1094.93 779.50,1096.31 779.80,1096.96 780.10,1096.48 780.40,1097.13 780.70,1097.15 781.00,1096.38 781.30,1096.75 781.60,1098.22 781.90,1096.81 782.20,1097.05 782.50,1096.30 782.80,1096.61 783.10,1096.51 783.40,1098.20 783.70,1097.76 784.00,1098.09 784.30,1098.34 784.60,1097.52 784.90,1098.22 785.20,1097.35 785.50,1097.10 785.80,1098.26 786.10,1098.17 786.40,1098.27 786.70,1097.25 787.00,1097.89 787.30,1097.08 787.60,1098.38 787.90,1098.22 788.20,1096.84 788.50,1098.25 788.80,1096.60 789.10,1096.41 789.40,1097.79 789.70,1096.85 790.00,1097.35 790.30,1097.61 790.60,1096.29 790.90,1097.85 791.20,1096.82 791.50,1097.16 791.80,1096.97 792.10,1097.85 792.40,1097.86 792.70,1096.85 793.00,1096.45 793.30,1096.88 793.60,1097.13 793.90,1096.39 794.20,1096.56 794.50,1097.91 794.80,1097.77 795.10,1098.38 795.40,1098.39 795.70,1098.16 796.00,1097.05 796.30,1096.59 796.60,1096.92 796.90,1097.26 797.20,1097.40 797.50,1097.44 797.80,1097.04 798.10,1098.12 798.40,1096.88 798.70,1097.27 799.00,1098.20 799.30,1098.03 799.60,1096.91 799.90,1096.79 801.40,1098.04 802.90,1096.30 804.40,1096.57 805.90,1097.46 807.40,1097.48 808.90,1096.67 810.40,1096.42 811.90,1096.77 813.40,1098.02 814.90,1097.36 816.40,1098.50 817.90,1098.08 819.40,1098.52 820.90,1096.45 822.40,1096.79 823.90,1096.42 825.40,1097.35 826.90,1097.15 828.40,1096.53 829.90,1097.62 831.40,1096.64 832.90,1097.12 834.40,1096.99 835.90,1098.22 837.40,1097.38 838.90,1097.04 840.40,1096.58 841.90,1097.43 843.40,1097.88 844.90,1097.99 846.40,1098.52 847.90,1098.30 849.40,1097.07 850.90,1096.83 852.40,1098.21 853.90,1098.29 855.40,1097.68 856.90,1098.40 858.40,1097.79 859.90,1097.20 861.40,1096.96 862.90,1096.64 864.40,1098.02 865.90,1098.59 867.40,1098.62 868.90,1097.66 870.40,1098.11 871.90,1098.69 873.40,1098.45 874.90,1097.99 876.40,1097.59 877.90,1097.82 879.40,1097.07 880.90,1097.10 882.40,1098.21 883.90,1098.90 885.40,1097.93 886.90,1097.63 888.40,1097.52 889.90,1097.75 891.40,1098.52 892.90,1097.76 894.40,1098.88 895.90,1097.12 897.40,1097.48 898.90,1097.95 900.40,1097.71 901.90,1098.69 903.40,1098.64 904.90,1098.88 906.40,1098.19 907.90,1096.92 909.40,1098.12 910.90,1098.07 912.40,1097.95 912.70,1097.49 913.00,1098.44 913.30,1098.88 913.60,1097.10 913.90,1098.35 914.20,1097.70 914.50,1098.02 914.80,1098.86 915.10,1099.00 915.40,1098.30 915.70,1097.32 916.00,1098.92 916.30,1097.29 916.60,1097.74 916.90,1098.72 917.20,1097.59 917.50,1097.50 917.80,1098.99 918.10,1098.98 918.40,1097.60 918.70,1097.77 919.00,1097.53 919.30,1097.20 919.60,1097.46 919.90,1099.07 920.20,1097.09 920.50,1097.42 920.80,1097.36 921.10,1097.10 921.40,1098.08 921.70,1098.56 922.00,1098.77 922.30,1098.31 922.60,1098.73 922.90,1096.94 923.20,1097.55 923.50,1099.04 923.80,1097.07 924.10,1097.50 924.40,1097.95 924.70,1097.45 925.00,1098.01 925.30,1096.83 925.60,1097.12 925.90,1098.53 926.20,1096.47 926.50,1097.75 926.80,1095.61 927.10,1096.65 927.40,1094.94 927.70,1093.55 928.00,1090.72 928.30,1088.35 928.60,1087.23 928.90,1082.72 929.20,1078.96 929.50,1076.00 929.80,1071.24 930.10,1064.13 930.40,1060.54 930.70,1053.88 931.00,1047.90 931.30,1041.96 931.60,1037.80 931.90,1035.11 932.20,1030.54 932.50,1028.33 932.80,1027.72 933.10,1028.32 933.40,1030.70 933.70,1034.96 934.00,1037.13 934.30,1042.17 934.60,1049.15 934.90,1054.92 935.20,1060.60 935.50,1064.59 935.80,1070.13 936.10,1076.31 936.40,1079.65 936.70,1083.92 937.00,1086.29 937.30,1088.33 937.60,1091.22 937.90,1093.82 938.20,1095.23 938.50,1095.78 938.80,1096.30 939.10,1097.01 939.40,1097.19 939.70,1097.67 940.00,1098.51 940.30,1097.25 940.60,1098.20 940.90,1099.00 941.20,1098.85 941.50,1097.40 941.80,1099.14 942.10,1098.87 942.40,1097.40 942.70,1097.62 943.00,1097.48 943.30,1097.16 943.60,1099.20 943.90,1097.95 944.20,1098.97 944.50,1097.30 944.80,1097.08 945.10,1098.97 945.40,1098.80 945.70,1099.24 946.00,1098.56 946.30,1098.21 946.60,1098.75 946.90,1097.27 947.20,1098.25 947.50,1098.04 947.80,1097.39 948.10,1098.39 948.40,1097.78 948.70,1098.19 949.00,1097.89 949.30,1097.77 949.60,1097.86 949.90,1098.40 950.20,1099.24 950.50,1099.14 950.80,1098.98 951.10,1098.92 951.40,1097.72 951.70,1099.24 952.00,1097.68 952.30,1097.36 952.60,1098.19 952.90,1098.71 953.20,1097.85 953.50,1098.52 953.80,1097.72 955.30,1099.23 956.80,1098.11 958.30,1098.18 959.80,1098.30 961.30,1099.07 962.80,1099.32 964.30,1098.32 965.80,1098.14 967.30,1098.53 968.80,1097.33 970.30,1098.13 971.80,1099.06 973.30,1098.92 974.80,1097.34 976.30,1099.10 977.80,1098.08 979.30,1099.40 980.80,1098.05 982.30,1097.73 983.80,1098.47 985.30,1099.22 986.80,1098.23 988.30,1099.20 989.80,1098.86 991.30,1098.10 992.80,1097.97 994.30,1098.43 995.80,1098.21 997.30,1098.16 998.80,1098.78 1000.30,1099.28 1001.80,1098.65 1003.30,1097.69 1004.80,1097.86 1006.30,1098.20 1007.80,1098.75 1009.30,1097.71 1010.80,1097.59 1012.30,1098.13 1013.80,1098.05 1015.30,1097.50 1016.80,1098.63 1018.30,1099.48 1019.80,1098.64 1021.30,1099.09 1022.80,1099.30 1024.30,1099.33 1025.80,1099.50 1027.30,1098.47 1028.80,1099.01 1030.30,1097.78 1031.80,1099.46 1033.30,1098.37 1034.80,1098.59 1036.30,1099.51 1037.80,1098.19 1039.30,1097.99 1040.80,1099.39 1042.30,1098.90 1043.80,1097.78 1045.30,1097.66 1046.80,1098.38 1048.30,1097.63 1049.80,1099.46 1051.30,1098.04 1052.80,1098.24 1054.30,1098.51 1055.80,1098.78 1057.30,1098.62 1058.80,1099.06 1060.30,1099.13 1061.80,1098.65 1063.30,1097.91 1064.80,1099.86 1066.30,1099.24 1067.80,1097.91 1069.30,1098.70 1070.80,1099.40 1072.30,1099.93 1073.80,1097.90 1075.30,1097.79 1076.80,1098.83 1078.30,1098.71 1079.80,1099.76 1081.30,1099.62 1082.80,1098.54 1084.30,1098.74 1085.80,1099.10 1087.30,1099.78 1088.80,1098.28 1090.30,1098.71 1091.80,1098.05 1093.30,1099.27 1094.80,1097.93 1096.30,1099.94 1097.80,1099.04 1099.30,1099.16 1100.80,1098.09 1102.30,1098.41 1103.80,1098.93 1105.30,1099.79 1106.80,1099.09 1108.30,1098.53 1109.80,1100.06 1111.30,1099.36 1112.80,1099.06 1114.30,1098.35 1115.80,1098.56 1117.30,1099.88 1118.80,1098.19 1120.30,1099.07 1121.80,1099.26 1123.30,1098.68 1124.80,1099.59 1126.30,1099.90 1126.60,1099.79 1126.90,1099.52 1127.20,1098.35 1127.50,1098.03 1127.80,1098.85 1128.10,1098.59 1128.40,1098.33 1128.70,1099.82 1129.00,1098.38 1129.30,1099.71 1129.60,1099.96 1129.90,1098.16 1130.20,1099.91 1130.50,1098.77 1130.80,1098.37 1131.10,1098.31 1131.40,1097.98 1131.70,1099.00 1132.00,1098.75 1132.30,1099.77 1132.60,1099.73 1132.90,1098.03 1133.20,1098.78 1133.50,1098.76 1133.80,1098.29 1134.10,1098.45 1134.40,1098.48 1134.70,1099.43 1135.00,1098.65 1135.30,1098.14 1135.60,1098.38 1135.90,1098.87 1136.20,1099.14 1136.50,1098.44 1136.80,1099.44 1137.10,1098.37 1137.40,1099.37 1137.70,1099.22 1138.00,1098.26 1138.30,1099.51 1138.60,1098.69 1138.90,1098.97 1139.20,1099.03 1139.50,1099.00 1139.80,1098.44 1140.10,1097.38 1140.40,1098.69 1140.70,1098.44 1141.00,1097.08 1141.30,1096.56 1141.60,1094.94 1141.90,1095.15 1142.20,1093.23 1142.50,1090.46 1142.80,1089.72 1143.10,1087.73 1143.40,1083.68 1143.70,1082.24 1144.00,1078.08 1144.30,1074.31 1144.60,1072.43 1144.90,1068.71 1145.20,1066.99 1145.50,1064.49 1145.80,1061.80 1146.10,1061.71 1146.40,1062.07 1146.70,1061.60 1147.00,1062.75 1147.30,1065.10 1147.60,1066.36 1147.90,1069.05 1148.20,1072.14 1148.50,1075.73 1148.80,1077.46 1149.10,1080.25 1149.40,1084.59 1149.70,1086.77 1150.00,1088.58 1150.30,1091.94 1150.60,1093.67 1150.90,1094.36 1151.20,1096.52 1151.50,1097.12 1151.80,1097.65 1152.10,1097.19 1152.40,1096.98 1152.70,1098.75 1153.00,1099.08 1153.30,1098.39 1153.60,1098.77 1153.90,1099.03 1154.20,1098.38 1154.50,1099.39 1154.80,1099.11 1155.10,1098.73 1155.40,1098.13 1155.70,1099.11 1156.00,1098.60 1156.30,1099.49 1156.60,1098.28 1156.90,1098.77 1157.20,1098.33 1157.50,1098.80 1157.80,1099.17 1158.10,1098.14 1158.40,1098.02 1158.70,1098.96 1159.00,1098.34 1159.30,1099.01 1159.60,1098.27 1159.90,1098.12 1160.20,1099.08 1160.50,1099.93 1160.80,1099.81 1161.10,1099.03 1161.40,1098.77 1161.70,1098.05 1162.00,1098.51 1162.30,1098.59 1162.60,1099.97 1162.90,1098.16 1163.20,1099.99 1163.50,1098.95 1163.80,1098.85 1164.10,1098.48 1164.40,1100.02 1164.70,1098.31 1165.00,1099.16 1165.30,1099.02 1165.60,1098.34 1165.90,1098.39 1166.20,1100.07 1166.50,1099.64 1166.80,1099.51 1167.10,1099.89 1167.40,1098.12 1168.90,1099.45 1170.40,1099.55 1171.90,1098.40 1173.40,1098.91 1174.90,1100.04 1176.40,1098.62 1177.90,1099.58 1179.40,1098.26 1180.90,1099.37 1182.40,1098.49 1183.90,1099.02 1185.40,1098.72 1186.90,1099.81 1188.40,1099.54 1188.70,1099.01 1189.00,1099.41 1189.30,1098.84 1189.60,1099.67 1189.90,1098.47 1190.20,1099.10 1190.50,1099.19 1190.80,1098.75 1191.10,1098.00 1191.40,1098.27 1191.70,1099.31 1192.00,1098.36 1192.30,1099.57 1192.60,1099.01 1192.90,1100.00 1193.20,1099.77 1193.50,1099.50 1193.80,1098.72 1194.10,1098.00 1194.40,1099.12 1194.70,1099.54 1195.00,1099.93 1195.30,1098.35 1195.60,1098.25 1195.90,1100.06 1196.20,1099.53 1196.50,1098.97 1196.80,1099.52 1197.10,1098.23 1197.40,1099.10 1197.70,1099.37 1198.00,1099.23 1198.30,1098.25 1198.60,1098.20 1198.90,1099.27 1199.20,1099.85 1199.50,1098.20 1199.80,1097.92 1200.10,1098.08 1200.40,1099.63 1200.70,1098.76 1201.00,1098.90 1201.30,1100.08 1201.60,1099.24 1201.90,1098.47 1202.20,1099.43 1202.50,1097.89 1202.80,1098.50 1203.10,1099.40 1203.40,1098.23 1203.70,1097.90 1204.00,1098.94 1204.30,1098.47 1204.60,1099.83 1204.90,1097.83 1205.20,1099.27 1205.50,1098.22 1205.80,1098.95 1206.10,1097.92 1206.40,1098.12 1206.70,1097.00 1207.00,1096.32 1207.30,1096.28 1207.60,1096.39 1207.90,1094.62 1208.20,1093.48 1208.50,1092.88 1208.80,1091.04 1209.10,1090.27 1209.40,1089.47 1209.70,1087.95 1210.00,1086.55 1210.30,1084.31 1210.60,1082.16 1210.90,1080.63 1211.20,1079.87 1211.50,1078.21 1211.80,1077.85 1212.10,1076.20 1212.40,1076.53 1212.70,1075.67 1213.00,1075.57 1213.30,1075.78 1213.60,1075.63 1213.90,1076.02 1214.20,1076.60 1214.50,1077.11 1214.80,1079.96 1215.10,1080.69 1215.40,1081.30 1215.70,1084.67 1216.00,1085.47 1216.30,1087.12 1216.60,1088.21 1216.90,1088.95 1217.20,1092.20 1217.50,1091.59 1217.80,1093.12 1218.10,1095.48 1218.40,1094.40 1218.70,1095.96 1219.00,1096.53 1219.30,1096.53 1219.60,1098.45 1219.90,1097.67 1220.20,1097.05 1220.50,1098.29 1220.80,1097.42 1221.10,1099.10 1221.40,1099.55 1221.70,1099.71 1222.00,1097.87 1222.30,1099.29 1222.60,1098.51 1222.90,1098.90 1223.20,1098.53 1223.50,1098.55 1223.80,1098.18 1224.10,1099.27 1224.40,1098.09 1224.70,1100.02 1225.00,1097.99 1225.30,1100.02 1225.60,1098.32 1225.90,1098.08 1226.20,1099.54 1226.50,1099.07 1226.80,1099.59 1227.10,1099.02 1227.40,1099.29 1227.70,1098.08 1228.00,1099.38 1228.30,1099.03 1228.60,1100.02 1228.90,1097.91 1229.20,1098.05 1229.50,1099.39 1229.80,1099.94 1230.10,1098.83 1230.40,1099.46 1230.70,1099.13 1231.00,1098.76 1231.30,1098.92 1231.60,1099.22 1231.90,1097.96 1232.20,1098.57 1232.50,1099.52 1232.80,1098.47 1233.10,1098.94 1233.40,1098.46 1233.70,1098.69 1234.00,1099.33 1234.30,1099.54 1234.60,1100.01 1234.90,1098.95 1235.20,1098.35 1235.50,1098.64 1235.80,1098.03 1236.10,1098.43 1236.40,1099.19 1236.70,1099.24 1237.00,1098.43 1237.30,1098.30 1237.60,1098.12 1237.90,1098.29 1238.20,1099.00 1238.50,1098.46 1238.80,1099.84 1239.10,1099.14 1239.40,1098.65 1240.90,1098.85 1242.40,1097.99 1243.90,1099.51 1245.40,1099.55 1246.90,1098.70 1248.40,1099.50 1249.90,1098.50 1251.40,1098.38 1252.90,1098.40 1254.40,1098.33 1255.90,1099.23 1257.40,1099.31 1258.90,1099.50 1260.40,1098.13 1261.90,1099.59 1263.40,1098.95 1264.90,1098.73 1266.40,1099.01 1267.90,1098.85 1269.40,1098.34 1270.90,1098.77 1272.40,1099.32 1273.90,1099.47 1275.40,1099.91 1276.90,1098.33 1278.40,1099.86 1279.90,1099.66 1281.40,1099.47 1282.90,1100.05 1284.40,1098.20 1285.90,1099.61 1287.40,1099.88 1288.90,1098.17 1290.40,1099.21 1291.90,1099.98 1293.40,1098.54 1294.90,1099.78 1296.40,1099.89 1297.90,1098.86 1299.40,1098.22 1300.90,1098.37 1302.40,1099.73 1303.90,1098.83 1305.40,1098.59 1306.90,1098.87 1308.40,1099.94 1309.90,1098.46 1311.40,1097.94 1312.90,1099.99 1314.40,1098.60 1315.90,1098.75 1317.40,1100.05 1318.90,1098.52 1320.40,1098.09 1321.90,1099.85 1323.40,1098.44 1324.90,1098.39 1326.40,1099.96 1327.90,1098.40 1329.40,1099.88 1330.90,1098.63 1332.40,1098.57 1333.90,1098.37 1335.40,1099.09 1336.90,1099.13 1338.40,1098.78 1339.90,1099.02 1341.40,1098.56 1342.90,1099.74 1344.40,1099.95 1345.90,1099.56 1347.40,1099.70 1348.90,1098.06 1350.40,1098.45 1351.90,1098.35 1353.40,1098.24 1354.90,1100.03 1356.40,1099.89 1357.90,1099.91 1359.40,1099.13 1360.90,1098.16 1362.40,1098.84 1363.90,1098.02 1365.40,1099.89 1366.90,1098.48 1368.40,1098.53 1369.90,1099.98 1371.40,1098.34 1372.90,1099.93 1374.40,1098.58 1375.90,1099.36 1377.40,1098.13 1378.90,1099.88 1380.40,1098.78 1381.90,1098.66 1383.40,1099.34 1384.90,1099.21 1386.40,1098.45 1387.90,1098.17 1389.40,1099.17 1390.90,1097.95 1392.40,1099.82 1393.90,1098.66 1395.40,1098.27 1396.90,1098.62 1398.40,1098.15 1399.90,1098.60 1401.40,1099.10 1402.90,1098.80 1404.40,1098.64 1405.90,1098.54 1407.40,1098.97 1408.90,1099.61 1410.40,1098.86 1411.90,1099.59 1413.40,1098.96 1414.90,1098.16 1416.40,1098.27 1417.90,1099.76 1419.40,1098.95 1420.90,1098.74 1422.40,1099.03 1423.90,1099.76 1425.40,1098.73 1426.90,1098.70 1428.40,1098.71 1429.90,1097.92 1431.40,1099.10 1432.90,1098.95 1434.40,1098.99 1435.90,1098.89 1437.40,1098.94 1438.90,1099.47 1440.40,1098.31 1441.90,1100.06 1443.40,1098.15 1444.90,1099.81 1446.40,1098.29 1447.90,1099.65 1449.40,1098.47 1450.90,1098.07 1452.40,1099.09 1453.90,1099.75 1455.40,1099.76 1456.90,1099.83 1458.40,1100.06 1459.90,1098.02 1461.40,1098.73 1462.90,1098.14 1464.40,1099.56" fill="none" stroke="#00f" stroke-width="4.6" stroke-linejoin="round" stroke-linecap="butt"/>
<g fill="#000">
<rect x="115.5" y="25.5" width="5.5" height="1132.1"/>
<rect x="1640" y="25.5" width="5.2" height="1132.1"/>
<rect x="115.5" y="1152" width="1529.7" height="5.6"/>
<rect x="115.5" y="25.5" width="1529.7" height="2.8"/>
</g>
<rect x="116" y="23" width="1527" height="2.5" fill="#666"/>
<rect x="121" y="31" width="11" height="3" fill="#909090"/>
<rect x="1629" y="31" width="11" height="3" fill="#909090"/>
<rect x="121" y="28.2" width="1519" height="2.8" fill="#808080"/>
<g fill="#000">
<rect x="203.9" y="1130" width="5.5" height="22"/>
<rect x="203.9" y="31" width="5.5" height="11.5"/>
<rect x="383.9" y="1130" width="5.5" height="22"/>
<rect x="383.9" y="31" width="5.5" height="11.5"/>
<rect x="563.2" y="1130" width="5.5" height="22"/>
<rect x="563.2" y="31" width="5.5" height="11.5"/>
<rect x="743.1" y="1130" width="5.5" height="22"/>
<rect x="743.1" y="31" width="5.5" height="11.5"/>
<rect x="923.1" y="1130" width="5.5" height="22"/>
<rect x="923.1" y="31" width="5.5" height="11.5"/>
<rect x="1100.0" y="1130" width="5.5" height="22"/>
<rect x="1100.0" y="31" width="5.5" height="11.5"/>
<rect x="1280.0" y="1130" width="5.5" height="22"/>
<rect x="1280.0" y="31" width="5.5" height="11.5"/>
<rect x="1459.5" y="1130" width="5.5" height="22"/>
<rect x="1459.5" y="31" width="5.5" height="11.5"/>
<rect x="295.2" y="1141.3" width="5.5" height="10.7"/>
<rect x="295.2" y="31" width="5.5" height="5.2"/>
<rect x="474.9" y="1141.3" width="5.5" height="10.7"/>
<rect x="474.9" y="31" width="5.5" height="5.2"/>
<rect x="652.0" y="1141.3" width="5.5" height="10.7"/>
<rect x="652.0" y="31" width="5.5" height="5.2"/>
<rect x="831.6" y="1141.3" width="5.5" height="10.7"/>
<rect x="831.6" y="31" width="5.5" height="5.2"/>
<rect x="1011.8" y="1141.3" width="5.5" height="10.7"/>
<rect x="1011.8" y="31" width="5.5" height="5.2"/>
<rect x="1191.2" y="1141.3" width="5.5" height="10.7"/>
<rect x="1191.2" y="31" width="5.5" height="5.2"/>
<rect x="1371.2" y="1141.3" width="5.5" height="10.7"/>
<rect x="1371.2" y="31" width="5.5" height="5.2"/>
<rect x="1548.0" y="1141.3" width="5.5" height="10.7"/>
<rect x="1548.0" y="31" width="5.5" height="5.2"/>
<rect x="121" y="1107.8" width="14" height="5.3"/>
<rect x="1626" y="1107.8" width="14" height="5.3"/>
<rect x="121" y="928.6" width="14" height="5.3"/>
<rect x="1626" y="928.6" width="14" height="5.3"/>
<rect x="121" y="749.2" width="14" height="5.3"/>
<rect x="1626" y="749.2" width="14" height="5.3"/>
<rect x="121" y="569.9" width="14" height="5.3"/>
<rect x="1626" y="569.9" width="14" height="5.3"/>
<rect x="121" y="390.6" width="14" height="5.3"/>
<rect x="1626" y="390.6" width="14" height="5.3"/>
<rect x="121" y="211.3" width="14" height="5.3"/>
<rect x="1626" y="211.3" width="14" height="5.3"/>
<rect x="121" y="33.4" width="14" height="5.3"/>
<rect x="1626" y="33.4" width="14" height="5.3"/>
<rect x="121" y="1018.2" width="6.5" height="5.3"/>
<rect x="1633.5" y="1018.2" width="6.5" height="5.3"/>
<rect x="121" y="838.9" width="6.5" height="5.3"/>
<rect x="1633.5" y="838.9" width="6.5" height="5.3"/>
<rect x="121" y="659.6" width="6.5" height="5.3"/>
<rect x="1633.5" y="659.6" width="6.5" height="5.3"/>
<rect x="121" y="480.3" width="6.5" height="5.3"/>
<rect x="1633.5" y="480.3" width="6.5" height="5.3"/>
<rect x="121" y="301.0" width="6.5" height="5.3"/>
<rect x="1633.5" y="301.0" width="6.5" height="5.3"/>
<rect x="121" y="121.7" width="6.5" height="5.3"/>
<rect x="1633.5" y="121.7" width="6.5" height="5.3"/>
</g>
<g class="sans" font-size="70" text-anchor="middle" fill="#000">
<text transform="translate(206.7,1235) scale(1.02,1.06)" x="0" y="0">20</text>
<text transform="translate(386.6,1235) scale(1.02,1.06)" x="0" y="0">30</text>
<text transform="translate(566.0,1235) scale(1.02,1.06)" x="0" y="0">40</text>
<text transform="translate(745.9,1235) scale(1.02,1.06)" x="0" y="0">50</text>
<text transform="translate(925.9,1235) scale(1.02,1.06)" x="0" y="0">60</text>
<text transform="translate(1102.7,1235) scale(1.02,1.06)" x="0" y="0">70</text>
<text transform="translate(1282.7,1235) scale(1.02,1.06)" x="0" y="0">80</text>
<text transform="translate(1462.2,1235) scale(1.02,1.06)" x="0" y="0">90</text>
<text transform="translate(1642.5,1235) scale(1.02,1.06)" x="0" y="0">100</text>
</g>
<rect x="1586" y="1226" width="14.4" height="11" fill="#fff"/>
<rect x="1610.1" y="1226" width="12.6" height="11" fill="#fff"/>
<text transform="matrix(0.9667 0 0 1.0303 756.73 1365.17)" font-family="Liberation Serif, Times New Roman, serif" font-weight="bold" font-size="100">2</text>
<text transform="matrix(1.1050 0 0 0.9397 808.08 1364.52)" font-family="Liberation Serif, Times New Roman, serif" font-weight="normal" font-size="100" stroke="#000" stroke-width="1.6">θ</text>
<text transform="matrix(1.0615 0 0 0.9867 860.95 1365.28)" font-family="Liberation Serif, Times New Roman, serif" font-weight="bold" font-size="100">(</text>
<text transform="matrix(0.9615 0 0 1.0370 893.58 1317.50)" font-family="Liberation Serif, Times New Roman, serif" font-weight="bold" font-size="60">o</text>
<text transform="matrix(1.0692 0 0 0.9867 921.49 1365.28)" font-family="Liberation Serif, Times New Roman, serif" font-weight="bold" font-size="100">)</text>
<text class="serif" transform="translate(69.8,607) rotate(-90)" x="0" y="0" font-size="78" text-anchor="middle" textLength="585" lengthAdjust="spacingAndGlyphs">Intensity/(counts)</text>
<g><rect x="224.8" y="68.3" width="38.9" height="36.5" fill="none" stroke="#000" stroke-width="2.2"/><polygon points="245.5,135.2 265.6,167.8 225.5,167.8" fill="none" stroke="#000" stroke-width="2.0" stroke-linejoin="miter"/><ellipse cx="245.4" cy="212.1" rx="20.9" ry="20.8" fill="none" stroke="#000" stroke-width="2.2"/><polygon points="245.6,258.8 265.7,294.0 225.4,294.0" fill="#000"/><ellipse cx="326.8" cy="364.5" rx="16.3" ry="16.0" fill="none" stroke="#000" stroke-width="2.2"/><rect x="465.3" y="425.5" width="27.8" height="30.0" fill="none" stroke="#000" stroke-width="2.2"/><ellipse cx="479.0" cy="481.9" rx="16.7" ry="15.0" fill="none" stroke="#000" stroke-width="2.2"/><rect x="523.6" y="444.6" width="30.1" height="27.8" fill="none" stroke="#000" stroke-width="2.2"/><ellipse cx="537.2" cy="498.9" rx="16.4" ry="15.4" fill="none" stroke="#000" stroke-width="2.2"/><rect x="554.6" y="126.6" width="29.9" height="29.5" fill="none" stroke="#000" stroke-width="2.2"/><ellipse cx="567.4" cy="186.3" rx="16.4" ry="15.4" fill="none" stroke="#000" stroke-width="2.2"/><polygon points="650.3,275.4 664.0,300.0 636.6,300.0" fill="none" stroke="#000" stroke-width="2.0" stroke-linejoin="miter"/><polygon points="781.0,440.9 794.5,466.2 767.4,466.2" fill="none" stroke="#000" stroke-width="2.0" stroke-linejoin="miter"/><rect x="764.4" y="473.0" width="29.3" height="29.2" fill="none" stroke="#000" stroke-width="2.2"/><ellipse cx="801.3" cy="544.0" rx="15.4" ry="15.4" fill="none" stroke="#000" stroke-width="2.2"/><ellipse cx="833.7" cy="584.3" rx="15.9" ry="15.4" fill="none" stroke="#000" stroke-width="2.2"/><rect x="969.1" y="486.3" width="27.4" height="27.4" fill="none" stroke="#000" stroke-width="2.2"/><ellipse cx="980.9" cy="540.4" rx="15.9" ry="15.4" fill="none" stroke="#000" stroke-width="2.2"/><rect x="1104.8" y="498.0" width="29.7" height="29.2" fill="none" stroke="#000" stroke-width="2.2"/><ellipse cx="1117.0" cy="551.1" rx="15.9" ry="15.4" fill="none" stroke="#000" stroke-width="2.2"/><rect x="1165.7" y="574.4" width="28.9" height="27.8" fill="none" stroke="#000" stroke-width="2.2"/><polygon points="1221.0,435.4 1234.7,461.2 1207.4,461.2" fill="none" stroke="#000" stroke-width="2.0" stroke-linejoin="miter"/><rect x="1206.7" y="475.7" width="27.8" height="28.8" fill="none" stroke="#000" stroke-width="2.2"/><ellipse cx="1221.3" cy="531.1" rx="15.9" ry="15.4" fill="none" stroke="#000" stroke-width="2.2"/><polygon points="492.1,695.8 508.5,725.0 475.7,725.0" fill="#000"/><polygon points="594.2,689.7 610.6,717.0 577.8,717.0" fill="#000"/><polygon points="641.2,740.0 655.4,762.9 627.0,762.9" fill="none" stroke="#000" stroke-width="2.0" stroke-linejoin="miter"/><polygon points="771.0,769.8 785.2,793.1 756.7,793.1" fill="none" stroke="#000" stroke-width="2.0" stroke-linejoin="miter"/><polygon points="930.8,731.7 946.2,761.3 915.3,761.3" fill="#000"/><polygon points="1143.7,760.5 1158.7,788.8 1128.6,788.8" fill="#000"/><polygon points="1208.8,747.9 1222.9,771.0 1194.8,771.0" fill="none" stroke="#000" stroke-width="2.0" stroke-linejoin="miter"/><polygon points="493.0,919.6 508.0,947.0 478.0,947.0" fill="#000"/><polygon points="596.4,861.5 612.5,888.0 580.2,888.0" fill="#000"/><polygon points="643.7,1030.6 657.9,1053.5 629.4,1053.5" fill="none" stroke="#000" stroke-width="2.0" stroke-linejoin="miter"/><polygon points="771.0,1027.4 785.2,1051.2 756.7,1051.2" fill="none" stroke="#000" stroke-width="2.0" stroke-linejoin="miter"/><polygon points="933.4,993.4 948.6,1021.8 918.2,1021.8" fill="#000"/><polygon points="1146.0,1027.8 1161.0,1055.6 1130.9,1055.6" fill="#000"/><polygon points="1213.4,1042.9 1227.5,1066.8 1199.4,1066.8" fill="none" stroke="#000" stroke-width="2.0" stroke-linejoin="miter"/></g>
<g class="serif" font-size="49" fill="#000">
<text x="283" y="105.4" letter-spacing="2.6">Ti</text>
<text x="281.5" y="168.8" letter-spacing="3.2">Ni</text>
<text x="282" y="232.2" font-size="53.5">C</text>
<text x="283" y="294" letter-spacing="1.6">TiC</text>
</g>
<rect x="982.5" y="117" width="134.5" height="5.2" fill="#000"/>
<rect x="982.5" y="189" width="134.5" height="5.3" fill="#f00"/>
<rect x="982.5" y="261" width="134.5" height="5.3" fill="#00f"/>
<g class="serif" font-size="58.3" fill="#000">
<text x="1128.3" y="138.3">Green body</text>
<text x="1129.5" y="209.8">No soaking</text>
<text x="1128.3" y="283">Soaking for 15 min</text>
</g>
</svg></body></html>
